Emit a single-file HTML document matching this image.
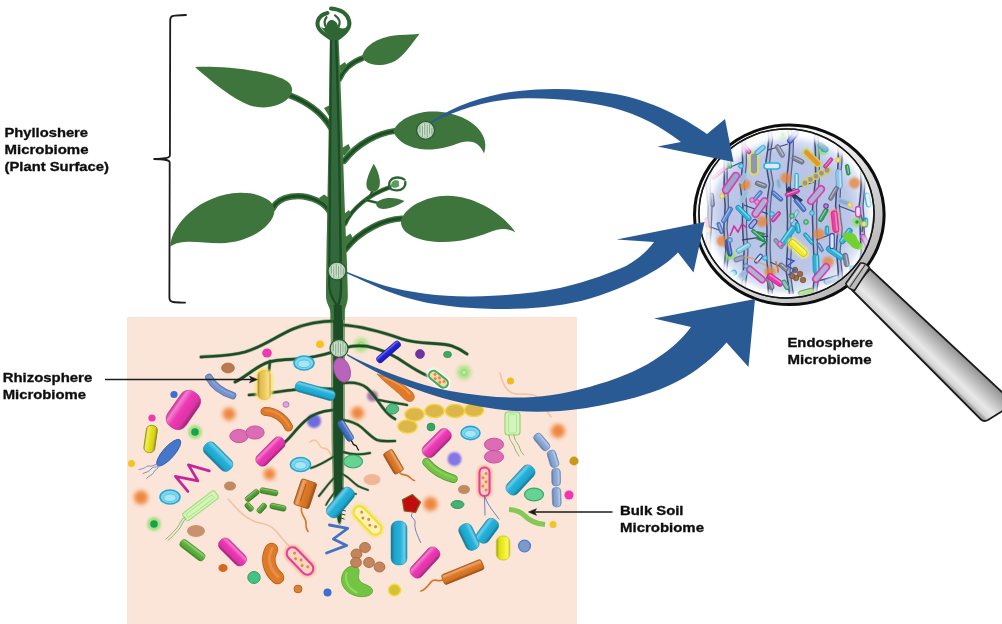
<!DOCTYPE html>
<html><head><meta charset="utf-8"><title>Plant microbiome</title>
<style>
html,body{margin:0;padding:0;background:#fff;}
body{width:1002px;height:624px;overflow:hidden;font-family:"Liberation Sans",sans-serif;}
svg{display:block;}
text{font-family:"Liberation Sans",sans-serif;font-weight:bold;fill:#111;}
</style></head><body>
<svg width="1002" height="624" viewBox="0 0 1002 624">
<defs>
<filter id="soft" x="-2%" y="-2%" width="104%" height="104%"><feGaussianBlur stdDeviation="0.6"/></filter>
<filter id="glow" x="-60%" y="-60%" width="220%" height="220%"><feGaussianBlur stdDeviation="2.2"/></filter>
<filter id="glow1" x="-60%" y="-60%" width="220%" height="220%"><feGaussianBlur stdDeviation="1.3"/></filter>
<linearGradient id="gf2cc5c" x1="0" y1="0" x2="0" y2="1"><stop offset="0" stop-color="#c6a74b"/><stop offset="0.16" stop-color="#f6dd93"/><stop offset="0.42" stop-color="#f2cc5c"/><stop offset="0.78" stop-color="#dfbc55"/><stop offset="1" stop-color="#9b833b"/></linearGradient>
<linearGradient id="ge8e21c" x1="0" y1="0" x2="0" y2="1"><stop offset="0" stop-color="#beb917"/><stop offset="0.16" stop-color="#f0ec69"/><stop offset="0.42" stop-color="#e8e21c"/><stop offset="0.78" stop-color="#d5d01a"/><stop offset="1" stop-color="#949112"/></linearGradient>
<linearGradient id="gf2f022" x1="0" y1="0" x2="0" y2="1"><stop offset="0" stop-color="#c6c51c"/><stop offset="0.16" stop-color="#f6f56d"/><stop offset="0.42" stop-color="#f2f022"/><stop offset="0.78" stop-color="#dfdd1f"/><stop offset="1" stop-color="#9b9a16"/></linearGradient>
<linearGradient id="gee38b4" x1="0" y1="0" x2="0" y2="1"><stop offset="0" stop-color="#c32e94"/><stop offset="0.16" stop-color="#f47cce"/><stop offset="0.42" stop-color="#ee38b4"/><stop offset="0.78" stop-color="#db34a6"/><stop offset="1" stop-color="#982473"/></linearGradient>
<linearGradient id="g22b2dc" x1="0" y1="0" x2="0" y2="1"><stop offset="0" stop-color="#1c92b4"/><stop offset="0.16" stop-color="#6dcce8"/><stop offset="0.42" stop-color="#22b2dc"/><stop offset="0.78" stop-color="#1fa4ca"/><stop offset="1" stop-color="#16728d"/></linearGradient>
<linearGradient id="g2222dc" x1="0" y1="0" x2="0" y2="1"><stop offset="0" stop-color="#1c1cb4"/><stop offset="0.16" stop-color="#6d6de8"/><stop offset="0.42" stop-color="#2222dc"/><stop offset="0.78" stop-color="#1f1fca"/><stop offset="1" stop-color="#16168d"/></linearGradient>
<linearGradient id="g4472c4" x1="0" y1="0" x2="0" y2="1"><stop offset="0" stop-color="#385da1"/><stop offset="0.16" stop-color="#84a2d8"/><stop offset="0.42" stop-color="#4472c4"/><stop offset="0.78" stop-color="#3f69b4"/><stop offset="1" stop-color="#2c497d"/></linearGradient>
<linearGradient id="g8cacdc" x1="0" y1="0" x2="0" y2="1"><stop offset="0" stop-color="#738db4"/><stop offset="0.16" stop-color="#b3c8e8"/><stop offset="0.42" stop-color="#8cacdc"/><stop offset="0.78" stop-color="#819eca"/><stop offset="1" stop-color="#5a6e8d"/></linearGradient>
<linearGradient id="ge07a28" x1="0" y1="0" x2="0" y2="1"><stop offset="0" stop-color="#b86421"/><stop offset="0.16" stop-color="#eba771"/><stop offset="0.42" stop-color="#e07a28"/><stop offset="0.78" stop-color="#ce7025"/><stop offset="1" stop-color="#8f4e1a"/></linearGradient>
<linearGradient id="g5cb43a" x1="0" y1="0" x2="0" y2="1"><stop offset="0" stop-color="#4b9430"/><stop offset="0.16" stop-color="#93ce7d"/><stop offset="0.42" stop-color="#5cb43a"/><stop offset="0.78" stop-color="#55a635"/><stop offset="1" stop-color="#3b7325"/></linearGradient>
<linearGradient id="g52a434" x1="0" y1="0" x2="0" y2="1"><stop offset="0" stop-color="#43862b"/><stop offset="0.16" stop-color="#8dc379"/><stop offset="0.42" stop-color="#52a434"/><stop offset="0.78" stop-color="#4b9730"/><stop offset="1" stop-color="#346921"/></linearGradient>
<linearGradient id="handle" x1="0" y1="0" x2="0" y2="1"><stop offset="0" stop-color="#8f8f8f"/><stop offset="0.35" stop-color="#c9c9c9"/><stop offset="0.7" stop-color="#ececec"/><stop offset="1" stop-color="#bdbdbd"/></linearGradient>
<radialGradient id="lens" cx="0.5" cy="0.5" r="0.5"><stop offset="0" stop-color="#b9c6e6"/><stop offset="0.8" stop-color="#c2cdea"/><stop offset="1" stop-color="#dfe6f5"/></radialGradient>
<clipPath id="lensclip"><circle cx="789" cy="214.5" r="86.5"/></clipPath>
</defs>
<rect width="1002" height="624" fill="#ffffff"/>
<g filter="url(#soft)">
<rect x="127" y="317" width="450" height="307" fill="#fbe5d8"/>
<circle cx="229" cy="414" r="6.5" fill="#ee7f30" opacity="0.92" filter="url(#glow)"/>
<circle cx="357.5" cy="413" r="6.5" fill="#ee7f30" opacity="0.92" filter="url(#glow)"/>
<circle cx="141" cy="497.5" r="7" fill="#ee7f30" opacity="0.92" filter="url(#glow)"/>
<circle cx="269.5" cy="474" r="6" fill="#ee7f30" opacity="0.92" filter="url(#glow)"/>
<circle cx="558" cy="431" r="7" fill="#ee7f30" opacity="0.92" filter="url(#glow)"/>
<circle cx="430.5" cy="504" r="7" fill="#ee7f30" opacity="0.92" filter="url(#glow)"/>
<circle cx="361" cy="345" r="7" fill="#9be07a" opacity="0.85" filter="url(#glow)"/>
<circle cx="361" cy="345" r="2.6" fill="#b9f09a" stroke="#7fd060" stroke-width="0.8"/>
<circle cx="464" cy="372.5" r="7" fill="#9be07a" opacity="0.85" filter="url(#glow)"/>
<circle cx="464" cy="372.5" r="2.6" fill="#b9f09a" stroke="#7fd060" stroke-width="0.8"/>
<circle cx="314" cy="421" r="7" fill="#5656e2" opacity="0.85" filter="url(#glow1)"/>
<circle cx="454.5" cy="459" r="7" fill="#7868ea" opacity="0.9" filter="url(#glow1)"/>
<circle cx="372.5" cy="396" r="5.5" fill="#9a68a2" opacity="0.85" filter="url(#glow1)"/>
<path d="M310,442 C 314,438 318,441 320,446 C 322,450 326,447 328,450 C 330,453 331,455 333,457" fill="none" stroke="#f2c4a6" stroke-width="1.6" stroke-linecap="round" stroke-linejoin="round"/>
<path d="M228,499 C 236,508 244,518 256,522 C 264,524 270,524 276,531 C 282,538 286,544 291,548" fill="none" stroke="#f0c2a4" stroke-width="1.5" stroke-linecap="round" stroke-linejoin="round"/>
<path d="M500,373 C 502,382 505,390 512,393 C 520,396 530,392 536,396 C 542,401 546,410 551,417" fill="none" stroke="#f2c4a6" stroke-width="1.6" stroke-linecap="round" stroke-linejoin="round"/>
<g id="plant">
<path d="M336,321 C 318,321 305,324 293,329 C 275,337 262,347 245,352 C 230,356 215,356 201,357" fill="none" stroke="#2c6a36" stroke-width="3.7800000000000002" stroke-linecap="round" opacity="0.45"/><path d="M336,321 C 318,321 305,324 293,329 C 275,337 262,347 245,352 C 230,356 215,356 201,357" fill="none" stroke="#1c4d26" stroke-width="2.58" stroke-linecap="round"/>
<path d="M333,352 C 320,356 308,358 296,359 C 282,360 270,360 262,365 C 252,370 244,378 235,382" fill="none" stroke="#2c6a36" stroke-width="3.7800000000000002" stroke-linecap="round" opacity="0.45"/><path d="M333,352 C 320,356 308,358 296,359 C 282,360 270,360 262,365 C 252,370 244,378 235,382" fill="none" stroke="#1c4d26" stroke-width="2.58" stroke-linecap="round"/>
<path d="M270,361 L 269,371" fill="none" stroke="#2c6a36" stroke-width="3.436" stroke-linecap="round" opacity="0.45"/><path d="M270,361 L 269,371" fill="none" stroke="#1c4d26" stroke-width="2.236" stroke-linecap="round"/>
<path d="M333,389 C 318,388 305,388 292,390 C 276,392 262,394 249,395" fill="none" stroke="#2c6a36" stroke-width="3.6079999999999997" stroke-linecap="round" opacity="0.45"/><path d="M333,389 C 318,388 305,388 292,390 C 276,392 262,394 249,395" fill="none" stroke="#1c4d26" stroke-width="2.408" stroke-linecap="round"/>
<path d="M333,410 C 322,411 312,414 305,421 C 296,429 291,437 285,442" fill="none" stroke="#2c6a36" stroke-width="3.6079999999999997" stroke-linecap="round" opacity="0.45"/><path d="M333,410 C 322,411 312,414 305,421 C 296,429 291,437 285,442" fill="none" stroke="#1c4d26" stroke-width="2.408" stroke-linecap="round"/>
<path d="M333,457 C 325,462 318,466 311,468" fill="none" stroke="#2c6a36" stroke-width="2.92" stroke-linecap="round" opacity="0.45"/><path d="M333,457 C 325,462 318,466 311,468" fill="none" stroke="#1c4d26" stroke-width="1.72" stroke-linecap="round"/>
<path d="M334,478 C 328,484 324,490 319,496" fill="none" stroke="#2c6a36" stroke-width="2.92" stroke-linecap="round" opacity="0.45"/><path d="M334,478 C 328,484 324,490 319,496" fill="none" stroke="#1c4d26" stroke-width="1.72" stroke-linecap="round"/>
<path d="M335,492 C 331,497 328,501 326,505" fill="none" stroke="#2c6a36" stroke-width="2.576" stroke-linecap="round" opacity="0.45"/><path d="M335,492 C 331,497 328,501 326,505" fill="none" stroke="#1c4d26" stroke-width="1.3760000000000001" stroke-linecap="round"/>
<path d="M342,325 C 360,326 385,333 402,339 C 420,345 440,342 452,346 C 458,348 463,351 467,354" fill="none" stroke="#2c6a36" stroke-width="3.7800000000000002" stroke-linecap="round" opacity="0.45"/><path d="M342,325 C 360,326 385,333 402,339 C 420,345 440,342 452,346 C 458,348 463,351 467,354" fill="none" stroke="#1c4d26" stroke-width="2.58" stroke-linecap="round"/>
<path d="M344,348 C 355,345 365,345 374,348 C 388,352 398,358 405,363 C 414,369 421,373 428,376" fill="none" stroke="#2c6a36" stroke-width="3.7800000000000002" stroke-linecap="round" opacity="0.45"/><path d="M344,348 C 355,345 365,345 374,348 C 388,352 398,358 405,363 C 414,369 421,373 428,376" fill="none" stroke="#1c4d26" stroke-width="2.58" stroke-linecap="round"/>
<path d="M343,383 C 352,382 361,383 367,388 C 374,394 378,402 383,408 C 387,413 391,417 395,419" fill="none" stroke="#2c6a36" stroke-width="3.6079999999999997" stroke-linecap="round" opacity="0.45"/><path d="M343,383 C 352,382 361,383 367,388 C 374,394 378,402 383,408 C 387,413 391,417 395,419" fill="none" stroke="#1c4d26" stroke-width="2.408" stroke-linecap="round"/>
<path d="M379,400 C 388,402 397,403 407,405" fill="none" stroke="#2c6a36" stroke-width="3.2640000000000002" stroke-linecap="round" opacity="0.45"/><path d="M379,400 C 388,402 397,403 407,405" fill="none" stroke="#1c4d26" stroke-width="2.064" stroke-linecap="round"/>
<path d="M343,420 C 350,421 356,423 361,427 C 367,432 371,437 377,440 C 383,442 389,441 395,441" fill="none" stroke="#2c6a36" stroke-width="3.436" stroke-linecap="round" opacity="0.45"/><path d="M343,420 C 350,421 356,423 361,427 C 367,432 371,437 377,440 C 383,442 389,441 395,441" fill="none" stroke="#1c4d26" stroke-width="2.236" stroke-linecap="round"/>
<path d="M343,452 C 352,455 361,455 370,453" fill="none" stroke="#2c6a36" stroke-width="3.092" stroke-linecap="round" opacity="0.45"/><path d="M343,452 C 352,455 361,455 370,453" fill="none" stroke="#1c4d26" stroke-width="1.8920000000000001" stroke-linecap="round"/>
<path d="M342,474 C 348,476 352,482 358,486 C 362,488 365,489 368,490" fill="none" stroke="#2c6a36" stroke-width="2.748" stroke-linecap="round" opacity="0.45"/><path d="M342,474 C 348,476 352,482 358,486 C 362,488 365,489 368,490" fill="none" stroke="#1c4d26" stroke-width="1.548" stroke-linecap="round"/>
<path d="M342,488 C 346,492 350,494 356,494" fill="none" stroke="#2c6a36" stroke-width="2.576" stroke-linecap="round" opacity="0.45"/><path d="M342,488 C 346,492 350,494 356,494" fill="none" stroke="#1c4d26" stroke-width="1.3760000000000001" stroke-linecap="round"/>
<path d="M330.5,309 L345,309 L344.8,440 L343.6,500 L341.5,522 Q 339.5,528 337.5,522 L333,500 L331.5,440 Z" fill="#2c6a36" opacity="0.6"/>
<path d="M333.2,300 L343,300 L343,440 L342.2,500 L340.8,521 Q 339.4,525.5 338,521 L334.4,500 L333.2,440 Z" fill="#1c4d26"/>
<g stroke="#1c4d26" stroke-width="1" fill="none"><path d="M342,506 l4,0.5"/><path d="M341.8,510 l4,1"/><path d="M341.4,514 l4,1"/><path d="M341,518 l3.5,1.2"/><path d="M336,512 l-3,1.2"/></g>
<path d="M290,95.5 C 305,101 322,112 331,128" fill="none" stroke="#3d743c" stroke-width="6.2" stroke-linecap="round"/><path d="M290,95.5 C 305,101 322,112 331,128" fill="none" stroke="#1c4d26" stroke-width="3.0" stroke-linecap="round"/>
<path d="M363,58 C 352,62 344,68 339.5,79" fill="none" stroke="#3d743c" stroke-width="5.6" stroke-linecap="round"/><path d="M363,58 C 352,62 344,68 339.5,79" fill="none" stroke="#1c4d26" stroke-width="2.8" stroke-linecap="round"/>
<path d="M395,131 C 378,133 358,143 344,161" fill="none" stroke="#3d743c" stroke-width="6.2" stroke-linecap="round"/><path d="M395,131 C 378,133 358,143 344,161" fill="none" stroke="#1c4d26" stroke-width="3.0" stroke-linecap="round"/>
<path d="M273,208 C 279,196 300,192 318,201 C 324,204 328,208 331,214" fill="none" stroke="#3d743c" stroke-width="6.2" stroke-linecap="round"/><path d="M273,208 C 279,196 300,192 318,201 C 324,204 328,208 331,214" fill="none" stroke="#1c4d26" stroke-width="3.0" stroke-linecap="round"/>
<path d="M402,218.5 C 385,219 360,230 345,250" fill="none" stroke="#3d743c" stroke-width="6.2" stroke-linecap="round"/><path d="M402,218.5 C 385,219 360,230 345,250" fill="none" stroke="#1c4d26" stroke-width="3.0" stroke-linecap="round"/>
<path d="M345,224 C 352,208 370,194 389.5,187.3" fill="none" stroke="#3d743c" stroke-width="4.4" stroke-linecap="round"/><path d="M345,224 C 352,208 370,194 389.5,187.3" fill="none" stroke="#1c4d26" stroke-width="2.4" stroke-linecap="round"/>
<path d="M369,197 C 371,195 372,193 372.5,190" fill="none" stroke="#3d743c" stroke-width="2.4" stroke-linecap="round"/><path d="M369,197 C 371,195 372,193 372.5,190" fill="none" stroke="#1c4d26" stroke-width="1.2" stroke-linecap="round"/>
<path d="M366,200 C 370,201 374,202 378,203" fill="none" stroke="#3d743c" stroke-width="2.4" stroke-linecap="round"/><path d="M366,200 C 370,201 374,202 378,203" fill="none" stroke="#1c4d26" stroke-width="1.2" stroke-linecap="round"/>
<g fill="#3d743c"><path d="M324,108 l5,-2.5 l2.5,5 l-1,8 z"/><path d="M339,66 l6,-4 l2,4 l-6,8 z"/><path d="M342,148 l6.5,-4 l2,4.5 l-7,8 z"/><path d="M319,198 l5,-3.5 l6,4 l0.5,9 z"/><path d="M344,238 l6.5,-4.5 l2.5,5 l-8,8 z"/><path d="M344,214 l5,-4 l2,4 l-6,7 z"/></g>
<path d="M330,38 C 329.5,80 329,125 327.5,200 C 326.5,250 326,285 326,296 C 326,304 330,306 330.5,313 L 330.5,320 L 344.5,320 L 344.5,313 C 345,306 347.8,304 347.8,296 C 347.8,280 346,240 344.5,200 C 343,150 341,90 338.5,38 Z" fill="#3d743c"/>
<path d="M331,40 C 330.5,100 329.8,200 329.2,285 C 329.2,296 334,300 337,306 C 340,300 341.2,296 341,285 C 340,200 338.6,100 336,40 Z" fill="#33683a"/>
<path d="M331,40 C 330.5,100 329.8,200 329.2,285 C 329.2,296 334,300 337.5,307" fill="none" stroke="#1c4d26" stroke-width="2.2"/>
<path d="M336,40 C 338.6,100 340,200 341,285 C 341.2,296 340,300 337.5,307" fill="none" stroke="#1c4d26" stroke-width="2.4"/>
<path d="M337.7,305 L338,322" stroke="#1c4d26" stroke-width="8" fill="none"/>
<path d="M195,67 C 215,66 262,68.5 285,80 C 293,84.5 294.5,92 288,98.5 C 280,106.5 264,110 250,105.5 C 232,98.5 212,82 195,67 Z" fill="#3d743c"/>
<path d="M362.5,55.5 C 365,45 380,36 400,35 C 408,34.5 414,34.5 419.5,33.8 C 413,42 407,52 398,59 C 388,66.5 372,66.5 366,61.5 C 363,59.5 362,57.5 362.5,55.5 Z" fill="#3d743c"/>
<path d="M393.5,131 C 398,119.5 415,111.5 433,111.5 C 456,111.5 478,122 484,138 C 486,144 485.5,149 484,153.5 C 481,146 476,141.5 468,141.5 C 458,141.5 450,148.5 432,149.5 C 415,150.5 397,143.5 393.5,131 Z" fill="#3d743c"/>
<path d="M170.3,246.5 C 171,225 200,194 240,192.8 C 258,192.3 274.5,200 274.5,210 C 274.5,225 250,243.2 220,243.2 C 200,243.2 182,238.5 170.3,246.5 Z" fill="#3d743c"/>
<path d="M401,221 C 404,208 425,196 447,195.8 C 475,195.6 503,214 515.5,232.5 C 508,228 500,228 490,232 C 475,238 460,242 443,242 C 420,242 400,234 401,221 Z" fill="#3d743c"/>
<path d="M373.6,163.8 C 378,170 381,180 379.6,186 C 378,191 374,192.6 371,191.6 C 366.5,190 365.6,185 367,180 C 368.5,174 371,169 373.6,163.8 Z" fill="#3d743c"/>
<path d="M376,203 C 382,196.8 395,196.8 404.5,201 C 398,206 386,210.5 380,208.5 C 377,207.5 376,205 376,203 Z" fill="#3d743c"/>
<path d="M389.5,187 C 388,181 392,177.3 398,177.5 C 401,177.6 403,178.4 404.5,179.6" fill="none" stroke="#2f6534" stroke-width="2.3" stroke-linecap="round"/>
<path d="M405.3,182 C 406,187 402,190.5 396.5,190.3 C 392.5,190.1 390,189 389.5,187" fill="none" stroke="#2f6534" stroke-width="2.3" stroke-linecap="round"/>
<path d="M391,186 C 391,181 394.5,179.5 398,180.5 C 400,182 398,184 399.5,185.5 C 397,188.5 392.5,188.5 391,186 Z" fill="#5c9c5c"/>
<g fill="none" stroke="#2f6534" stroke-linecap="round"><path d="M331,38.5 C 322,33 315.5,28 318,20.5 C 319.5,16.5 323,14 327.5,13" stroke-width="4"/><path d="M337.5,38.5 C 346,33 351,27 349,20.5 C 347,13.5 340,9.4 331,8.6" stroke-width="4"/><path d="M326,27 C 324,23.5 324.3,20 326.5,17.2" stroke-width="2.2"/><path d="M339,26 C 340.5,22 338.8,18 335,15.4" stroke-width="2.2"/></g>
<path d="M320.5,26 C 323,31 328,34 330.5,40 L 338.5,40 C 341,34 345,31 347.5,26 C 344.5,29.5 340.5,29 338.2,26.5 C 337.3,22.3 334.5,20 331.8,20 C 329,20 326.8,22.3 326.3,26.5 C 325,29 322.5,28.5 320.5,26 Z" fill="#2f6534"/>
<g><circle cx="425.6" cy="130.3" r="9.0" fill="#b3d0b3" stroke="#2b5a32" stroke-width="1.3"/><g stroke="#7c9f83" stroke-width="0.9"><line x1="420.0" y1="125.4" x2="420.0" y2="132.7"/><line x1="422.40000000000003" y1="126.0" x2="422.40000000000003" y2="136.6"/><line x1="424.8" y1="123.4" x2="424.8" y2="134.7"/><line x1="427.20000000000005" y1="125.5" x2="427.20000000000005" y2="137.1"/><line x1="429.6" y1="124.3" x2="429.6" y2="133.8"/><line x1="431.8" y1="127.9" x2="431.8" y2="134.7"/></g><g stroke="#dcebd9" stroke-width="0.8"><line x1="421.20000000000005" y1="124.8" x2="421.20000000000005" y2="135.8"/><line x1="423.6" y1="123.9" x2="423.6" y2="136.7"/><line x1="426.0" y1="123.7" x2="426.0" y2="136.9"/><line x1="428.40000000000003" y1="124.1" x2="428.40000000000003" y2="136.5"/><line x1="430.70000000000005" y1="125.3" x2="430.70000000000005" y2="135.3"/></g></g>
<g><circle cx="337" cy="271" r="9.0" fill="#b3d0b3" stroke="#2b5a32" stroke-width="1.3"/><g stroke="#7c9f83" stroke-width="0.9"><line x1="331.4" y1="266.1" x2="331.4" y2="273.4"/><line x1="333.8" y1="266.7" x2="333.8" y2="277.3"/><line x1="336.2" y1="264.1" x2="336.2" y2="275.4"/><line x1="338.6" y1="266.2" x2="338.6" y2="277.8"/><line x1="341.0" y1="265.0" x2="341.0" y2="274.5"/><line x1="343.2" y1="268.6" x2="343.2" y2="275.4"/></g><g stroke="#dcebd9" stroke-width="0.8"><line x1="332.6" y1="265.5" x2="332.6" y2="276.5"/><line x1="335.0" y1="264.6" x2="335.0" y2="277.4"/><line x1="337.4" y1="264.4" x2="337.4" y2="277.6"/><line x1="339.8" y1="264.8" x2="339.8" y2="277.2"/><line x1="342.1" y1="266.0" x2="342.1" y2="276.0"/></g></g>
<g><circle cx="339" cy="348.5" r="9.0" fill="#b3d0b3" stroke="#2b5a32" stroke-width="1.3"/><g stroke="#7c9f83" stroke-width="0.9"><line x1="333.4" y1="343.6" x2="333.4" y2="350.9"/><line x1="335.8" y1="344.2" x2="335.8" y2="354.8"/><line x1="338.2" y1="341.6" x2="338.2" y2="352.9"/><line x1="340.6" y1="343.7" x2="340.6" y2="355.3"/><line x1="343.0" y1="342.5" x2="343.0" y2="352.0"/><line x1="345.2" y1="346.1" x2="345.2" y2="352.9"/></g><g stroke="#dcebd9" stroke-width="0.8"><line x1="334.6" y1="343.0" x2="334.6" y2="354.0"/><line x1="337.0" y1="342.1" x2="337.0" y2="354.9"/><line x1="339.4" y1="341.9" x2="339.4" y2="355.1"/><line x1="341.8" y1="342.3" x2="341.8" y2="354.7"/><line x1="344.1" y1="343.5" x2="344.1" y2="353.5"/></g></g>
</g>
<ellipse cx="267" cy="353" rx="4.8" ry="4.6" fill="#ea3ab2"/>
<ellipse cx="320" cy="344.3" rx="4" ry="3.8" fill="#f6c21e"/>
<ellipse cx="228" cy="368" rx="6.5" ry="5" fill="#b97a50" stroke="#a0643c" stroke-width="0.6"/>
<ellipse cx="174" cy="394.5" rx="3.6" ry="3.6" fill="#3b6fd2"/>
<ellipse cx="152" cy="418" rx="3.6" ry="3.6" fill="#ea3ab2"/>
<ellipse cx="286" cy="404.5" rx="3" ry="2.8" fill="#dca6dc" stroke="#b070b8" stroke-width="0.9"/>
<ellipse cx="131.5" cy="463.5" rx="3.5" ry="3.5" fill="#f6c21e"/>
<ellipse cx="420" cy="354" rx="4.5" ry="4.5" fill="#7232a2" stroke="#5a2488" stroke-width="0.6"/>
<ellipse cx="447.5" cy="354.5" rx="4" ry="3.2" fill="#3ca862" stroke="#2c8c4e" stroke-width="0.6"/>
<ellipse cx="510.5" cy="381" rx="3.5" ry="3.5" fill="#f2ba1e"/>
<ellipse cx="574" cy="461" rx="4.6" ry="4.4" fill="#c89a12"/>
<ellipse cx="569" cy="495" rx="4.6" ry="4.6" fill="#f236b4"/>
<ellipse cx="553" cy="524.5" rx="3.5" ry="3.5" fill="#f4c428"/>
<ellipse cx="431" cy="427" rx="4" ry="4" fill="#30a862" stroke="#208a4c" stroke-width="0.6"/>
<ellipse cx="327.5" cy="592.5" rx="4" ry="4" fill="#3a70d2"/>
<ellipse cx="298" cy="589" rx="4" ry="3.8" fill="#dc8238" stroke="#c0601c" stroke-width="1"/>
<ellipse cx="223" cy="568" rx="4.6" ry="4" fill="#d2691a"/>
<ellipse cx="394.5" cy="590" rx="6" ry="5.8" fill="#d8c034" stroke="#f0dc40" stroke-width="1.4"/>
<ellipse cx="254" cy="577.5" rx="6.2" ry="6" fill="#42c284" stroke="#2fa06a" stroke-width="1"/>
<ellipse cx="524.5" cy="546" rx="6" ry="5.8" fill="#8098c6" stroke="#3f82da" stroke-width="1.2"/>
<circle cx="195" cy="432" r="7" fill="#9be07a" opacity="0.9" filter="url(#glow1)"/>
<circle cx="195" cy="432" r="3.8" fill="#18a24c"/>
<circle cx="154" cy="524" r="7" fill="#9be07a" opacity="0.9" filter="url(#glow1)"/>
<circle cx="154" cy="524" r="3.8" fill="#18a24c"/>
<ellipse cx="230" cy="486" rx="6" ry="4.6" fill="#c08a62"/>
<ellipse cx="196" cy="531" rx="9" ry="6" fill="#c8926e"/>
<ellipse cx="464" cy="489.5" rx="6" ry="4.6" fill="#c08a62"/>
<ellipse cx="372" cy="479.5" rx="8.5" ry="5.6" fill="#f2b696"/>
<ellipse cx="353" cy="461.5" rx="9.5" ry="6.5" fill="#66d294" stroke="#38a868" stroke-width="1.2"/>
<ellipse cx="392.5" cy="409" rx="6.2" ry="5" fill="#52ba82" stroke="#389a66" stroke-width="1"/>
<ellipse cx="534" cy="494.5" rx="9.5" ry="6.4" fill="#66d294" stroke="#38a868" stroke-width="1.2"/>
<ellipse cx="457.5" cy="504.5" rx="6.5" ry="4" fill="#44b274" stroke="#2c9058" stroke-width="0.9"/>
<ellipse cx="304" cy="363" rx="10" ry="7" fill="#7fd6ee" stroke="#28a8d0" stroke-width="1.6"/><ellipse cx="304" cy="363.8" rx="6.2" ry="3.8500000000000005" fill="#a8e6f6" stroke="#4fbfe0" stroke-width="0.9"/>
<ellipse cx="300.5" cy="464.5" rx="10" ry="7" fill="#7fd6ee" stroke="#28a8d0" stroke-width="1.6"/><ellipse cx="300.5" cy="465.3" rx="6.2" ry="3.8500000000000005" fill="#a8e6f6" stroke="#4fbfe0" stroke-width="0.9"/>
<ellipse cx="170" cy="497" rx="10" ry="7" fill="#7fd6ee" stroke="#28a8d0" stroke-width="1.6"/><ellipse cx="170" cy="497.8" rx="6.2" ry="3.8500000000000005" fill="#a8e6f6" stroke="#4fbfe0" stroke-width="0.9"/>
<ellipse cx="470.5" cy="433" rx="9.5" ry="6.6" fill="#7fd6ee" stroke="#28a8d0" stroke-width="1.6"/><ellipse cx="470.5" cy="433.8" rx="5.89" ry="3.63" fill="#a8e6f6" stroke="#4fbfe0" stroke-width="0.9"/>
<ellipse cx="239" cy="436" rx="9.2" ry="6.6" fill="#dc6cb4" stroke="#c44c9c" stroke-width="0.9"/>
<ellipse cx="255" cy="432.5" rx="9.2" ry="6.6" fill="#dc6cb4" stroke="#c44c9c" stroke-width="0.9"/>
<ellipse cx="494" cy="444.5" rx="9.6" ry="6.3" fill="#dc6cb4" stroke="#c44c9c" stroke-width="0.9"/>
<ellipse cx="494" cy="456.8" rx="9.6" ry="6.3" fill="#dc6cb4" stroke="#c44c9c" stroke-width="0.9"/>
<ellipse cx="407.5" cy="426.5" rx="9.6" ry="6.6" fill="#dcb64c" stroke="#f2d43c" stroke-width="1.4"/>
<ellipse cx="414.5" cy="414.5" rx="9.6" ry="6.6" fill="#dcb64c" stroke="#f2d43c" stroke-width="1.4"/>
<ellipse cx="434.5" cy="411" rx="9.6" ry="6.6" fill="#dcb64c" stroke="#f2d43c" stroke-width="1.4"/>
<ellipse cx="455" cy="411" rx="9.6" ry="6.6" fill="#dcb64c" stroke="#f2d43c" stroke-width="1.4"/>
<ellipse cx="474" cy="410" rx="9.6" ry="6.6" fill="#dcb64c" stroke="#f2d43c" stroke-width="1.4"/>
<ellipse cx="342" cy="370" rx="8" ry="12.5" fill="#ba64ba" stroke="#9a4a9c" stroke-width="0.8" transform="rotate(-18 342 370)"/>
<rect x="255" y="368" width="18" height="33" rx="9" fill="#f5e86a" opacity="0.9" filter="url(#glow1)"/>
<rect x="-14.5" y="-6.5" width="29.0" height="13.0" rx="5.59" fill="url(#gf2cc5c)" stroke="#e8c040" stroke-width="0.8" transform="translate(264.0,385.0) rotate(90.0)"/>
<rect x="-13.6" y="-5.5" width="27.3" height="11.0" rx="4.7299999999999995" fill="url(#ge8e21c)" stroke="#8c8c14" stroke-width="0.8" transform="translate(150.6,439.0) rotate(-81.8)"/>
<rect x="-12.0" y="-6.8" width="24.0" height="13.5" rx="5.805" fill="url(#gf2f022)" stroke="#c8c81a" stroke-width="0.8" transform="translate(503.0,548.0) rotate(90.0)"/>
<rect x="-21.0" y="-11.0" width="42.0" height="22.0" rx="9.459999999999999" fill="url(#gee38b4)" stroke="#b22a87" stroke-width="0.5" transform="translate(183.4,410.0) rotate(-55.0)"/>
<rect x="-17.7" y="-6.5" width="35.4" height="13.0" rx="5.59" fill="url(#gee38b4)" stroke="#b22a87" stroke-width="0.5" transform="translate(270.5,451.5) rotate(-45.0)"/>
<rect x="-16.7" y="-6.5" width="33.4" height="13.0" rx="5.59" fill="url(#gee38b4)" stroke="#b22a87" stroke-width="0.5" transform="translate(232.5,552.0) rotate(45.0)"/>
<rect x="-17.3" y="-7.0" width="34.5" height="14.0" rx="6.02" fill="url(#gee38b4)" stroke="#b22a87" stroke-width="0.5" transform="translate(436.8,443.0) rotate(-45.0)"/>
<rect x="-18.3" y="-7.0" width="36.5" height="14.0" rx="6.02" fill="url(#gee38b4)" stroke="#b22a87" stroke-width="0.5" transform="translate(425.0,562.5) rotate(-47.2)"/>
<rect x="-20.5" y="-5.2" width="41.0" height="10.5" rx="4.515" fill="url(#g22b2dc)" stroke="#1a86a5" stroke-width="0.5" transform="translate(315.2,391.0) rotate(15.6)"/>
<rect x="-17.5" y="-7.0" width="35.0" height="14.0" rx="6.02" fill="url(#g22b2dc)" stroke="#1a86a5" stroke-width="0.5" transform="translate(218.1,456.7) rotate(45.1)"/>
<rect x="-17.5" y="-7.0" width="34.9" height="14.0" rx="6.02" fill="url(#g22b2dc)" stroke="#1a86a5" stroke-width="0.5" transform="translate(340.5,502.5) rotate(-50.1)"/>
<rect x="-17.6" y="-7.0" width="35.2" height="14.0" rx="6.02" fill="url(#g22b2dc)" stroke="#1a86a5" stroke-width="0.5" transform="translate(520.5,480.0) rotate(-47.1)"/>
<rect x="-22.0" y="-8.0" width="44.0" height="16.0" rx="6.88" fill="url(#g22b2dc)" stroke="#1a86a5" stroke-width="0.5" transform="translate(399.0,543.0) rotate(90.0)"/>
<rect x="-13.9" y="-7.0" width="27.7" height="14.0" rx="6.02" fill="url(#g22b2dc)" stroke="#1a86a5" stroke-width="0.5" transform="translate(469.0,537.0) rotate(64.4)"/>
<rect x="-13.4" y="-7.0" width="26.8" height="14.0" rx="6.02" fill="url(#g22b2dc)" stroke="#1a86a5" stroke-width="0.5" transform="translate(487.5,530.8) rotate(-53.3)"/>
<rect x="-14.5" y="-3.5" width="29.1" height="7.0" rx="3.01" fill="url(#g2222dc)" stroke="#1a1aa5" stroke-width="0.5" transform="translate(388.5,352.0) rotate(-40.8)"/>
<rect x="-11.4" y="-3.8" width="22.9" height="7.5" rx="3.225" fill="url(#g4472c4)" stroke="#335693" stroke-width="0.5" transform="translate(345.5,430.8) rotate(58.4)"/>
<path d="M351.5,441 c 2,2 1,4 3,4 c 3,0 2,3 4,5" fill="none" stroke="#1a1a1a" stroke-width="1.3" stroke-linecap="round" stroke-linejoin="round"/>
<ellipse cx="168.7" cy="452.7" rx="17" ry="5.8" fill="#4476ca" stroke="#2c58a4" stroke-width="0.8" transform="rotate(-48.5 168.7 452.7)"/>
<path d="M158,465 c -3,-2 -5,2 -8,1 c -3,-1 -5,3 -11,3.5" fill="none" stroke="#6a84c4" stroke-width="0.9" stroke-linecap="round" stroke-linejoin="round"/>
<path d="M158,466 c -2,2 -5,0 -7,3 c -2,3 -5,3 -8,4.5" fill="none" stroke="#6a84c4" stroke-width="0.9" stroke-linecap="round" stroke-linejoin="round"/>
<path d="M158.5,466.5 c 0,3 -4,3 -5,6 c -1,3 -5,3 -7,6" fill="none" stroke="#6a84c4" stroke-width="0.9" stroke-linecap="round" stroke-linejoin="round"/>
<path d="M209,377.5 C 213,385 222,392 232.5,395.5" fill="none" stroke="#5a729f" stroke-width="7.6" stroke-linecap="round" stroke-linejoin="round"/><path d="M209,377.5 C 213,385 222,392 232.5,395.5" fill="none" stroke="#7492cc" stroke-width="6.0" stroke-linecap="round"/><path d="M209,377.5 C 213,385 222,392 232.5,395.5" fill="none" stroke="#a5b8de" stroke-width="1.7" stroke-linecap="round" opacity="0.45" transform="translate(0.6,-0.9)"/>
<rect x="-9.8" y="-4.3" width="19.5" height="8.6" rx="3.698" fill="url(#g8cacdc)" stroke="#6a8cbc" stroke-width="0.8" transform="translate(541.8,442.0) rotate(50.2)"/>
<rect x="-8.6" y="-4.3" width="17.2" height="8.6" rx="3.698" fill="url(#g8cacdc)" stroke="#6a8cbc" stroke-width="0.8" transform="translate(553.0,458.8) rotate(73.1)"/>
<rect x="-8.8" y="-4.3" width="17.5" height="8.6" rx="3.698" fill="url(#g8cacdc)" stroke="#6a8cbc" stroke-width="0.8" transform="translate(556.1,477.2) rotate(89.0)"/>
<rect x="-9.8" y="-4.3" width="19.5" height="8.6" rx="3.698" fill="url(#g8cacdc)" stroke="#6a8cbc" stroke-width="0.8" transform="translate(556.6,497.2) rotate(87.9)"/>
<path d="M265,411.5 C 274,411 284,417.5 288.5,427" fill="none" stroke="#af5f1f" stroke-width="9" stroke-linecap="round" stroke-linejoin="round"/><path d="M265,411.5 C 274,411 284,417.5 288.5,427" fill="none" stroke="#e07a28" stroke-width="7.4" stroke-linecap="round"/><path d="M265,411.5 C 274,411 284,417.5 288.5,427" fill="none" stroke="#eba973" stroke-width="2.0" stroke-linecap="round" opacity="0.45" transform="translate(0.6,-0.9)"/>
<path d="M377,374 C 390,377 404,384 412,392 C 416,396 414.5,401.5 410,401.5 C 405,401.5 402,396 397,392 C 390,386 382,380 377,374 Z" fill="#e07a28" stroke="#b85c14" stroke-width="0.6"/>
<path d="M384,377.5 C 394,381 404,387 410,394" fill="none" stroke="#f2a05a" stroke-width="1.6" stroke-linecap="round" opacity="0.8"/>
<path d="M271.5,549.5 C 266.5,558 268.5,570 277.5,577.5" fill="none" stroke="#af5f1f" stroke-width="13.5" stroke-linecap="round" stroke-linejoin="round"/><path d="M271.5,549.5 C 266.5,558 268.5,570 277.5,577.5" fill="none" stroke="#e07a28" stroke-width="11.9" stroke-linecap="round"/><path d="M271.5,549.5 C 266.5,558 268.5,570 277.5,577.5" fill="none" stroke="#eba973" stroke-width="3.0" stroke-linecap="round" opacity="0.45" transform="translate(0.6,-0.9)"/>
<rect x="-13.4" y="-8.0" width="26.9" height="16.0" rx="2" fill="url(#ge07a28)" stroke="#a85410" stroke-width="0.8" transform="translate(305.2,493.8) rotate(-71.6)"/>
<path d="M306,484 L 300.5,501" fill="none" stroke="#b05a14" stroke-width="1.0" stroke-linecap="round" stroke-linejoin="round"/>
<path d="M301.5,508 C 300,515 307,518 306,524 C 305.5,528 307,530 308,531.5" fill="none" stroke="#d8742a" stroke-width="1.6" stroke-linecap="round" stroke-linejoin="round"/>
<rect x="-11.9" y="-5.2" width="23.8" height="10.5" rx="2" fill="url(#ge07a28)" stroke="#a85410" stroke-width="0.8" transform="translate(393.5,461.8) rotate(59.7)"/>
<path d="M399,472 C 402,476 405,474 408,476 C 411,478 412,480 414.5,480.5" fill="none" stroke="#d8742a" stroke-width="1.6" stroke-linecap="round" stroke-linejoin="round"/>
<rect x="-21.3" y="-5.2" width="42.6" height="10.5" rx="2" fill="url(#ge07a28)" stroke="#a85410" stroke-width="0.8" transform="translate(462.8,572.0) rotate(-22.1)"/>
<path d="M443,580 C 438,582 434,578 431,582 C 428,586 425,590 421,591" fill="none" stroke="#d8742a" stroke-width="1.8" stroke-linecap="round" stroke-linejoin="round"/>
<rect x="-14.5" y="-4.2" width="28.9" height="8.5" rx="3.655" fill="url(#g5cb43a)" stroke="#45872c" stroke-width="0.5" transform="translate(192.5,550.2) rotate(37.3)"/>
<path d="M426.5,462 C 432,469 442,475.5 453.5,478.8" fill="none" stroke="#599933" stroke-width="8.5" stroke-linecap="round" stroke-linejoin="round"/><path d="M426.5,462 C 432,469 442,475.5 453.5,478.8" fill="none" stroke="#72c442" stroke-width="6.9" stroke-linecap="round"/><path d="M426.5,462 C 432,469 442,475.5 453.5,478.8" fill="none" stroke="#a3d984" stroke-width="1.9" stroke-linecap="round" opacity="0.45" transform="translate(0.6,-0.9)"/>
<path d="M509,509.6 C 516,510 521,512 525,516 C 529,520.5 536,523.5 545,524.6" fill="none" stroke="#82ca52" stroke-width="5" stroke-linecap="butt" stroke-linejoin="round"/>
<rect x="-8.0" y="-2.8" width="16.0" height="5.6" rx="2.408" fill="url(#g52a434)" stroke="#3e7b27" stroke-width="0.5" transform="translate(252.2,495.5) rotate(-38.7)"/>
<rect x="-9.2" y="-2.8" width="18.3" height="5.6" rx="2.408" fill="url(#g52a434)" stroke="#3e7b27" stroke-width="0.5" transform="translate(269.0,491.8) rotate(11.0)"/>
<rect x="-4.8" y="-2.8" width="9.6" height="5.6" rx="2.408" fill="url(#g52a434)" stroke="#3e7b27" stroke-width="0.5" transform="translate(249.2,507.0) rotate(47.1)"/>
<rect x="-5.7" y="-2.8" width="11.3" height="5.6" rx="2.408" fill="url(#g52a434)" stroke="#3e7b27" stroke-width="0.5" transform="translate(261.8,508.2) rotate(-48.6)"/>
<rect x="-8.2" y="-2.8" width="16.4" height="5.6" rx="2.408" fill="url(#g52a434)" stroke="#3e7b27" stroke-width="0.5" transform="translate(278.0,507.2) rotate(12.3)"/>
<path d="M346,569 C 351,564.5 358,565.5 359,570 C 359.5,574 357,577 360,581 C 363,585 371,585 372.5,590 C 373.5,594.5 367,597.5 359,596.5 C 348,595 341,587 341.5,579 C 341.8,575 343,572 346,569 Z" fill="#72c442" stroke="#58a430" stroke-width="0.8"/>
<path d="M346.5,573 C 344.5,580 348,589 357,592.5" fill="none" stroke="#9ade6a" stroke-width="2" stroke-linecap="round" opacity="0.8"/>
<ellipse cx="365" cy="547.5" rx="5.4" ry="5" fill="#c4845c" stroke="#a8683e" stroke-width="0.9"/>
<ellipse cx="356.5" cy="554" rx="5.4" ry="5" fill="#c4845c" stroke="#a8683e" stroke-width="0.9"/>
<ellipse cx="356" cy="562.5" rx="5.4" ry="5" fill="#c4845c" stroke="#a8683e" stroke-width="0.9"/>
<ellipse cx="369" cy="562.5" rx="5.4" ry="5" fill="#c4845c" stroke="#a8683e" stroke-width="0.9"/>
<ellipse cx="379.5" cy="567" rx="5.4" ry="5" fill="#c4845c" stroke="#a8683e" stroke-width="0.9"/>
<g transform="translate(200.5,505.8) rotate(-37)"><rect x="-20" y="-4.6" width="40" height="9.2" rx="2.5" fill="#d6f6b8" stroke="#a4dc84" stroke-width="1.2"/><rect x="-17" y="-2" width="33" height="4" rx="1.5" fill="none" stroke="#a4dc84" stroke-width="0.8"/></g>
<path d="M185,517 C 180,520 180,525 176,529 C 173,532 170,536 166,539" fill="none" stroke="#7ab45a" stroke-width="0.9" stroke-linecap="round" stroke-linejoin="round"/>
<path d="M186,518.5 C 182,521.5 182,526.5 178,530.5 C 175,533.5 172,537.5 168,540.5" fill="none" stroke="#7ab45a" stroke-width="0.9" stroke-linecap="round" stroke-linejoin="round"/>
<rect x="505" y="412" width="15" height="23" rx="3" fill="#d2f4ba" stroke="#96d47a" stroke-width="1.2"/><rect x="508.5" y="414" width="8" height="19" rx="2" fill="none" stroke="#a8e08c" stroke-width="0.8"/>
<path d="M509,435 C 509,441 514,444 515,449 C 516,452 518,454 519,456" fill="none" stroke="#7ab45a" stroke-width="0.9" stroke-linecap="round" stroke-linejoin="round"/>
<path d="M514,435 C 514,441 519,444 520,449 C 521,452 523,454 524,455" fill="none" stroke="#7ab45a" stroke-width="0.9" stroke-linecap="round" stroke-linejoin="round"/>
<rect x="-19.1" y="-8.5" width="38.2" height="17.0" rx="8.5" fill="#f4b088" opacity="0.9" filter="url(#glow1)" transform="translate(300.0,561.0) rotate(46.2)"/><g transform="translate(300.0,561.0) rotate(46.2)"><rect x="-16.6" y="-6.0" width="33.2" height="12.0" rx="6.0" fill="#f9d6c0" stroke="#e63aa4" stroke-width="2"/><circle cx="-9.5" cy="-1.6" r="1.5" fill="#e8883a"/><circle cx="-4.7" cy="1.6" r="1.5" fill="#e8883a"/><circle cx="0.0" cy="-1.6" r="1.5" fill="#e8883a"/><circle cx="4.7" cy="1.6" r="1.5" fill="#e8883a"/><circle cx="9.5" cy="-1.6" r="1.5" fill="#e8883a"/></g>
<rect x="-19.8" y="-8.5" width="39.7" height="17.0" rx="8.5" fill="#f6e27a" opacity="0.9" filter="url(#glow1)" transform="translate(367.5,520.5) rotate(46.2)"/><g transform="translate(367.5,520.5) rotate(46.2)"><rect x="-17.3" y="-6.0" width="34.7" height="12.0" rx="6.0" fill="#fbf2b8" stroke="#efe224" stroke-width="2"/><circle cx="-10.0" cy="-1.6" r="1.5" fill="#e8883a"/><circle cx="-5.0" cy="1.6" r="1.5" fill="#e8883a"/><circle cx="0.0" cy="-1.6" r="1.5" fill="#e8883a"/><circle cx="5.0" cy="1.6" r="1.5" fill="#e8883a"/><circle cx="10.0" cy="-1.6" r="1.5" fill="#e8883a"/></g>
<rect x="-16.8" y="-7.5" width="33.5" height="15.0" rx="7.5" fill="#f4b088" opacity="0.9" filter="url(#glow1)" transform="translate(484.5,481.8) rotate(90.0)"/><g transform="translate(484.5,481.8) rotate(90.0)"><rect x="-14.2" y="-5.0" width="28.5" height="10.0" rx="5.0" fill="#f8d2b4" stroke="#e63aa4" stroke-width="2"/><circle cx="-8.2" cy="-1.6" r="1.5" fill="#e8883a"/><circle cx="-4.1" cy="1.6" r="1.5" fill="#e8883a"/><circle cx="0.0" cy="-1.6" r="1.5" fill="#e8883a"/><circle cx="4.1" cy="1.6" r="1.5" fill="#e8883a"/><circle cx="8.2" cy="-1.6" r="1.5" fill="#e8883a"/></g>
<rect x="-13.4" y="-7.0" width="26.7" height="14.0" rx="7.0" fill="#ffffff" opacity="0.9" filter="url(#glow1)" transform="translate(438.5,379.2) rotate(38.5)"/><g transform="translate(438.5,379.2) rotate(38.5)"><rect x="-10.9" y="-4.5" width="21.7" height="9.0" rx="4.5" fill="#f6d8b4" stroke="#3cac5a" stroke-width="2"/><circle cx="-5.8" cy="-1.6" r="1.5" fill="#e8883a"/><circle cx="-2.9" cy="1.6" r="1.5" fill="#e8883a"/><circle cx="0.0" cy="-1.6" r="1.5" fill="#e8883a"/><circle cx="2.9" cy="1.6" r="1.5" fill="#e8883a"/><circle cx="5.8" cy="-1.6" r="1.5" fill="#e8883a"/></g>
<path d="M484.5,497 L 485,515" fill="none" stroke="#5a74c0" stroke-width="0.9" stroke-linecap="round" stroke-linejoin="round"/>
<path d="M485,497 C 488,506 494,512 499,519" fill="none" stroke="#5a74c0" stroke-width="0.9" stroke-linecap="round" stroke-linejoin="round"/>
<polygon points="412.3,494.5 420.5,502.3 415.5,512.5 404.3,510.9 402.4,499.8" fill="#c00808" stroke="#8a5a1e" stroke-width="1.2" stroke-linejoin="round"/>
<path d="M412,513.5 C 409,518 416,518 415,523 C 414,529 418,536 420.5,542.5" fill="none" stroke="#5a74c0" stroke-width="0.9" stroke-linecap="round" stroke-linejoin="round"/>
<polyline points="187.9,491.4 175.4,476.4 197.9,480.9 188.4,464.9 209.3,470.9" fill="none" stroke="#c4289c" stroke-width="2.8" stroke-linejoin="round" stroke-linecap="round"/>
<polyline points="329.4,525 347.7,528.3 333.3,539 346.7,545.4 326.5,553" fill="none" stroke="#4472c4" stroke-width="2.8" stroke-linejoin="round" stroke-linecap="round"/>
<defs><linearGradient id="hg" gradientUnits="userSpaceOnUse" x1="941" y1="333" x2="919" y2="356"><stop offset="0" stop-color="#8e8e8e"/><stop offset="0.3" stop-color="#b4b4b4"/><stop offset="0.72" stop-color="#e9e9e9"/><stop offset="0.93" stop-color="#d4d4d4"/><stop offset="1" stop-color="#a8a8a8"/></linearGradient></defs>
<path d="M870,269 L1012,401.5 L1012,405 L 988,420 Q 984,422.2 981,419.5 L 852,290 Z" fill="url(#hg)" stroke="#1c1c1c" stroke-width="1.8" stroke-linejoin="round"/>
<defs><linearGradient id="rg" x1="0" y1="0" x2="1" y2="1"><stop offset="0" stop-color="#ffffff"/><stop offset="0.45" stop-color="#ececec"/><stop offset="0.8" stop-color="#bebebe"/><stop offset="1" stop-color="#a6a6a6"/></linearGradient><clipPath id="lc"><ellipse cx="786.5" cy="213.5" rx="87" ry="84"/></clipPath><radialGradient id="lensg" cx="0.5" cy="0.5" r="0.5"><stop offset="0" stop-color="#b3bfe2"/><stop offset="0.72" stop-color="#bcc7e8"/><stop offset="0.9" stop-color="#dde4f5"/><stop offset="1" stop-color="#f4f6fc"/></radialGradient></defs>
<ellipse cx="789.3" cy="214.8" rx="94.8" ry="89.8" fill="url(#rg)" stroke="#0c0c0c" stroke-width="3"/>
<ellipse cx="786.5" cy="213.5" rx="87.5" ry="84.5" fill="url(#lensg)" stroke="#151515" stroke-width="1.5"/>
<g clip-path="url(#lc)">
<path d="M709.1,118 Q708.6,129.0 708.4,140 Q708.9,151.0 710.6,162 Q709.4,173.0 708.0,184 Q708.2,195.0 710.1,206 Q709.8,217.0 709.3,228 Q709.5,239.0 708.0,250 Q709.2,261.0 709.9,272 Q709.1,283.0 707.9,294" fill="none" stroke="#aab6d6" stroke-width="5.3" opacity="0.9"/>
<path d="M707.2,118 Q706.0,129.0 706.5,140 Q707.7,151.0 708.7,162 Q706.5,173.0 706.1,184 Q706.6,195.0 708.2,206 Q707.9,217.0 707.4,228 Q706.0,239.0 706.1,250 Q706.9,261.0 708.0,272 Q707.1,283.0 706.0,294" fill="none" stroke="#3a4672" stroke-width="1.5" opacity="0.95"/>
<path d="M711.0,118 Q710.8,129.0 710.3,140 Q711.5,151.0 712.5,162 Q711.6,173.0 709.9,184 Q710.1,195.0 712.0,206 Q711.7,217.0 711.2,228 Q709.9,239.0 709.9,250 Q710.0,261.0 711.8,272 Q711.2,283.0 709.8,294" fill="none" stroke="#4a5884" stroke-width="1.2" opacity="0.9"/>
<path d="M725.9,118 Q726.4,129.0 726.1,140 Q725.3,151.0 725.6,162 Q725.8,173.0 725.7,184 Q726.3,195.0 726.8,206 Q726.9,217.0 725.4,228 Q726.9,239.0 727.5,250 Q725.8,261.0 725.0,272 Q725.7,283.0 724.5,294" fill="none" stroke="#aab6d6" stroke-width="4.7" opacity="0.9"/>
<path d="M724.3,118 Q723.6,129.0 724.5,140 Q724.1,151.0 724.0,162 Q724.6,173.0 724.1,184 Q724.0,195.0 725.2,206 Q724.5,217.0 723.8,228 Q723.9,239.0 725.9,250 Q725.0,261.0 723.4,272 Q723.7,283.0 722.9,294" fill="none" stroke="#3a4672" stroke-width="1.5" opacity="0.95"/>
<path d="M727.5,118 Q727.7,129.0 727.7,140 Q728.2,151.0 727.2,162 Q726.9,173.0 727.3,184 Q728.3,195.0 728.4,206 Q727.9,217.0 727.0,228 Q728.2,239.0 729.1,250 Q727.7,261.0 726.6,272 Q727.0,283.0 726.1,294" fill="none" stroke="#4a5884" stroke-width="1.2" opacity="0.9"/>
<path d="M745.9,118 Q745.6,129.0 743.8,140 Q743.9,151.0 744.6,162 Q744.2,173.0 742.0,184 Q743.1,195.0 744.8,206 Q744.9,217.0 744.5,228 Q745.3,239.0 746.1,250 Q745.1,261.0 745.3,272 Q743.7,283.0 743.0,294" fill="none" stroke="#aab6d6" stroke-width="5.3" opacity="0.9"/>
<path d="M744.0,118 Q743.4,129.0 741.9,140 Q742.1,151.0 742.7,162 Q742.2,173.0 740.1,184 Q741.5,195.0 742.9,206 Q742.1,217.0 742.6,228 Q743.2,239.0 744.2,250 Q743.3,261.0 743.4,272 Q741.5,283.0 741.1,294" fill="none" stroke="#3a4672" stroke-width="1.5" opacity="0.95"/>
<path d="M747.8,118 Q746.6,129.0 745.7,140 Q746.2,151.0 746.5,162 Q745.6,173.0 743.9,184 Q746.2,195.0 746.7,206 Q746.9,217.0 746.4,228 Q747.0,239.0 748.0,250 Q747.1,261.0 747.2,272 Q745.2,283.0 744.9,294" fill="none" stroke="#4a5884" stroke-width="1.2" opacity="0.9"/>
<path d="M768.4,118 Q770.4,129.0 770.6,140 Q769.6,151.0 767.8,162 Q769.6,173.0 771.4,184 Q770.2,195.0 768.5,206 Q769.1,217.0 768.9,228 Q767.7,239.0 768.3,250 Q770.0,261.0 770.1,272 Q770.8,283.0 770.4,294" fill="none" stroke="#aab6d6" stroke-width="5.3" opacity="0.9"/>
<path d="M766.5,118 Q768.3,129.0 768.7,140 Q767.9,151.0 765.9,162 Q767.4,173.0 769.5,184 Q767.8,195.0 766.6,206 Q766.0,217.0 767.0,228 Q767.0,239.0 766.4,250 Q766.4,261.0 768.2,272 Q767.5,283.0 768.5,294" fill="none" stroke="#3a4672" stroke-width="1.5" opacity="0.95"/>
<path d="M770.3,118 Q770.8,129.0 772.5,140 Q770.4,151.0 769.7,162 Q771.1,173.0 773.3,184 Q770.9,195.0 770.4,206 Q769.6,217.0 770.8,228 Q769.8,239.0 770.2,250 Q770.3,261.0 772.0,272 Q771.8,283.0 772.3,294" fill="none" stroke="#4a5884" stroke-width="1.2" opacity="0.9"/>
<path d="M787.8,118 Q789.6,129.0 791.5,140 Q790.6,151.0 790.4,162 Q788.7,173.0 788.4,184 Q789.1,195.0 788.8,206 Q789.5,217.0 789.2,228 Q789.2,239.0 789.3,250 Q789.2,261.0 788.2,272 Q789.9,283.0 791.4,294" fill="none" stroke="#aab6d6" stroke-width="5.3" opacity="0.9"/>
<path d="M785.9,118 Q787.2,129.0 789.6,140 Q790.0,151.0 788.5,162 Q787.2,173.0 786.5,184 Q787.1,195.0 786.9,206 Q787.9,217.0 787.3,228 Q787.9,239.0 787.4,250 Q786.5,261.0 786.3,272 Q788.2,283.0 789.5,294" fill="none" stroke="#3a4672" stroke-width="1.5" opacity="0.95"/>
<path d="M789.7,118 Q790.8,129.0 793.4,140 Q793.6,151.0 792.3,162 Q791.3,173.0 790.3,184 Q791.3,195.0 790.7,206 Q790.6,217.0 791.1,228 Q790.6,239.0 791.2,250 Q790.8,261.0 790.1,272 Q791.7,283.0 793.3,294" fill="none" stroke="#4a5884" stroke-width="1.2" opacity="0.9"/>
<path d="M816.5,118 Q816.2,129.0 816.4,140 Q815.8,151.0 817.2,162 Q816.2,173.0 817.0,184 Q815.4,195.0 814.6,206 Q814.2,217.0 814.8,228 Q815.5,239.0 815.5,250 Q817.3,261.0 817.2,272 Q815.8,283.0 814.6,294" fill="none" stroke="#aab6d6" stroke-width="5.3" opacity="0.9"/>
<path d="M814.6,118 Q815.4,129.0 814.5,140 Q815.9,151.0 815.3,162 Q816.1,173.0 815.1,184 Q813.6,195.0 812.7,206 Q812.2,217.0 812.9,228 Q812.7,239.0 813.6,250 Q813.8,261.0 815.3,272 Q813.4,283.0 812.7,294" fill="none" stroke="#3a4672" stroke-width="1.5" opacity="0.95"/>
<path d="M818.4,118 Q818.6,129.0 818.3,140 Q819.5,151.0 819.1,162 Q819.7,173.0 818.9,184 Q817.7,195.0 816.5,206 Q816.9,217.0 816.7,228 Q817.6,239.0 817.4,250 Q817.4,261.0 819.1,272 Q818.1,283.0 816.5,294" fill="none" stroke="#4a5884" stroke-width="1.2" opacity="0.9"/>
<path d="M840.7,118 Q840.3,129.0 840.1,140 Q840.6,151.0 840.0,162 Q838.6,173.0 838.8,184 Q837.5,195.0 837.5,206 Q839.8,217.0 840.2,228 Q838.2,239.0 838.2,250 Q839.4,261.0 840.2,272 Q840.5,283.0 841.0,294" fill="none" stroke="#aab6d6" stroke-width="5.3" opacity="0.9"/>
<path d="M838.8,118 Q838.8,129.0 838.2,140 Q838.4,151.0 838.1,162 Q837.7,173.0 836.9,184 Q836.2,195.0 835.6,206 Q837.8,217.0 838.3,228 Q836.6,239.0 836.3,250 Q837.4,261.0 838.3,272 Q837.7,283.0 839.1,294" fill="none" stroke="#3a4672" stroke-width="1.5" opacity="0.95"/>
<path d="M842.6,118 Q842.9,129.0 842.0,140 Q842.4,151.0 841.9,162 Q840.5,173.0 840.7,184 Q840.5,195.0 839.4,206 Q840.0,217.0 842.1,228 Q842.0,239.0 840.1,250 Q840.5,261.0 842.1,272 Q843.2,283.0 842.9,294" fill="none" stroke="#4a5884" stroke-width="1.2" opacity="0.9"/>
<path d="M859.8,118 Q860.6,129.0 860.6,140 Q861.9,151.0 861.9,162 Q862.5,173.0 863.1,184 Q862.8,195.0 861.1,206 Q862.4,217.0 862.1,228 Q862.0,239.0 863.4,250 Q861.0,261.0 860.0,272 Q861.5,283.0 863.0,294" fill="none" stroke="#aab6d6" stroke-width="5.3" opacity="0.9"/>
<path d="M857.9,118 Q859.1,129.0 858.7,140 Q859.9,151.0 860.0,162 Q860.8,173.0 861.2,184 Q860.7,195.0 859.2,206 Q859.0,217.0 860.2,228 Q860.1,239.0 861.5,250 Q860.0,261.0 858.1,272 Q858.8,283.0 861.1,294" fill="none" stroke="#3a4672" stroke-width="1.5" opacity="0.95"/>
<path d="M861.7,118 Q861.3,129.0 862.5,140 Q863.5,151.0 863.8,162 Q864.4,173.0 865.0,184 Q864.0,195.0 863.0,206 Q864.1,217.0 864.0,228 Q865.4,239.0 865.3,250 Q862.7,261.0 861.9,272 Q862.7,283.0 864.9,294" fill="none" stroke="#4a5884" stroke-width="1.2" opacity="0.9"/>
<path d="M873.6,118 Q874.1,129.0 873.8,140 Q874.5,151.0 875.4,162 Q874.5,173.0 873.5,184 Q875.4,195.0 877.3,206 Q876.4,217.0 873.7,228 Q874.7,239.0 874.8,250 Q877.0,261.0 877.7,272 Q877.8,283.0 876.1,294" fill="none" stroke="#aab6d6" stroke-width="4.7" opacity="0.9"/>
<path d="M872.0,118 Q871.6,129.0 872.2,140 Q873.1,151.0 873.8,162 Q873.7,173.0 871.9,184 Q874.5,195.0 875.7,206 Q873.2,217.0 872.1,228 Q871.9,239.0 873.2,250 Q874.5,261.0 876.1,272 Q874.4,283.0 874.5,294" fill="none" stroke="#3a4672" stroke-width="1.5" opacity="0.95"/>
<path d="M875.2,118 Q874.8,129.0 875.4,140 Q875.4,151.0 877.0,162 Q876.4,173.0 875.1,184 Q877.6,195.0 878.9,206 Q877.9,217.0 875.3,228 Q875.2,239.0 876.4,250 Q878.3,261.0 879.3,272 Q878.8,283.0 877.7,294" fill="none" stroke="#4a5884" stroke-width="1.2" opacity="0.9"/>
<path d="M744,205 L768,214" stroke="#2b3764" stroke-width="1.3" opacity="0.85" fill="none"/>
<path d="M790,190 L814,182" stroke="#2b3764" stroke-width="1.3" opacity="0.85" fill="none"/>
<path d="M816,240 L837,232" stroke="#2b3764" stroke-width="1.3" opacity="0.85" fill="none"/>
<path d="M770,262 L788,270" stroke="#2b3764" stroke-width="1.3" opacity="0.85" fill="none"/>
<path d="M724,170 L742,162" stroke="#2b3764" stroke-width="1.3" opacity="0.85" fill="none"/>
<path d="M839,206 L860,214" stroke="#2b3764" stroke-width="1.3" opacity="0.85" fill="none"/>
<path d="M768,150 L788,144" stroke="#2b3764" stroke-width="1.3" opacity="0.85" fill="none"/>
<path d="M814,282 L837,276" stroke="#2b3764" stroke-width="1.3" opacity="0.85" fill="none"/>
<path d="M790,214 L798,222" stroke="#2b3764" stroke-width="1.3" opacity="0.85" fill="none"/>
<path d="M708,226 L724,232" stroke="#2b3764" stroke-width="1.3" opacity="0.85" fill="none"/>
<path d="M742,240 L768,236" stroke="#2b3764" stroke-width="1.3" opacity="0.85" fill="none"/>
<path d="M789,186 C 793,192 797,196 803,200 L 799,204 C 794,200 790,194 786,190 Z" fill="#1c2444" opacity="0.85"/>
<path d="M726,136 C 728,142 730,146 733,150" stroke="#1c2444" stroke-width="2.2" fill="none" opacity="0.8"/>
<path d="M858,210 C 862,216 864,224 862,232" stroke="#3a4672" stroke-width="1.6" fill="none" opacity="0.8"/>
<circle cx="745" cy="184.6" r="5.5" fill="#e8853a" opacity="0.8" filter="url(#glow1)"/>
<circle cx="786" cy="178" r="5.5" fill="#e8853a" opacity="0.8" filter="url(#glow1)"/>
<circle cx="854.5" cy="183" r="5.5" fill="#e8853a" opacity="0.8" filter="url(#glow1)"/>
<circle cx="762" cy="221.6" r="5.5" fill="#e8853a" opacity="0.8" filter="url(#glow1)"/>
<circle cx="819" cy="234" r="5.5" fill="#e8853a" opacity="0.8" filter="url(#glow1)"/>
<circle cx="722" cy="241" r="5.5" fill="#e8853a" opacity="0.8" filter="url(#glow1)"/>
<circle cx="770" cy="272" r="5.5" fill="#e8853a" opacity="0.8" filter="url(#glow1)"/>
<circle cx="828" cy="262" r="5.5" fill="#e8853a" opacity="0.8" filter="url(#glow1)"/>
<circle cx="783" cy="134" r="5" fill="#8be06a" opacity="0.85" filter="url(#glow1)"/><circle cx="783" cy="134" r="1.8" fill="#2a9a4a"/>
<circle cx="730" cy="255" r="5" fill="#8be06a" opacity="0.85" filter="url(#glow1)"/><circle cx="730" cy="255" r="1.8" fill="#2a9a4a"/>
<circle cx="823" cy="150" r="5" fill="#8be06a" opacity="0.85" filter="url(#glow1)"/><circle cx="823" cy="150" r="1.8" fill="#2a9a4a"/>
<circle cx="857" cy="222" r="5" fill="#8be06a" opacity="0.85" filter="url(#glow1)"/><circle cx="857" cy="222" r="1.8" fill="#2a9a4a"/>
<rect x="-11.0" y="-4.0" width="22.0" height="8.0" rx="4.0" fill="#8d97b4" stroke="#e6e23c" stroke-width="1.8" transform="translate(754.0,163.5) rotate(90.0)"/>
<rect x="-8.0" y="-3.0" width="16.0" height="6.0" rx="3.0" fill="#dfe8f6" stroke="#25b4dc" stroke-width="1.6" transform="translate(772.0,166.0) rotate(0.0)"/>
<rect x="-7.0" y="-2.2" width="14.0" height="4.5" rx="2.2" fill="#8090d0" stroke="#3444c8" stroke-width="1.4" transform="translate(793.0,137.0) rotate(-50.0)"/>
<rect x="-7.0" y="-2.2" width="14.0" height="4.5" rx="2.2" fill="#8a90a8" stroke="#616576" stroke-width="0.6" transform="translate(780.0,151.0) rotate(60.0)"/><rect x="-5.5" y="-1.2" width="11.0" height="1.1" rx="1" fill="#cacdd8" opacity="0.85" transform="translate(780.0,151.0) rotate(60.0)"/>
<rect x="-12.0" y="-3.5" width="24.0" height="7.0" rx="3.5" fill="#9aa8c8" stroke="#e03ab0" stroke-width="1.7" transform="translate(731.0,183.0) rotate(-55.0)"/>
<rect x="-6.0" y="-2.2" width="12.0" height="4.5" rx="2.2" fill="#7c8498" stroke="#575c6a" stroke-width="0.6" transform="translate(761.0,184.6) rotate(20.0)"/><rect x="-4.5" y="-1.2" width="9.0" height="1.1" rx="1" fill="#c4c8d1" opacity="0.85" transform="translate(761.0,184.6) rotate(20.0)"/>
<rect x="-6.5" y="-2.2" width="13.0" height="4.5" rx="2.2" fill="#7c8498" stroke="#575c6a" stroke-width="0.6" transform="translate(798.0,160.0) rotate(25.0)"/><rect x="-5.0" y="-1.2" width="10.0" height="1.1" rx="1" fill="#c4c8d1" opacity="0.85" transform="translate(798.0,160.0) rotate(25.0)"/>
<rect x="-11.0" y="-3.0" width="22.0" height="6.0" rx="3.0" fill="#e8903a" stroke="#c8dc30" stroke-width="1.5" transform="translate(812.0,158.0) rotate(45.0)"/>
<rect x="-10.0" y="-3.0" width="20.0" height="6.0" rx="3.0" fill="#8ec8ee" stroke="#638ca7" stroke-width="0.6" transform="translate(839.0,179.0) rotate(88.0)"/><rect x="-8.5" y="-2.0" width="17.0" height="1.5" rx="1" fill="#cce6f7" opacity="0.85" transform="translate(839.0,179.0) rotate(88.0)"/>
<rect x="-11.0" y="-3.2" width="22.0" height="6.5" rx="3.2" fill="#a8b4d4" stroke="#e03ab0" stroke-width="1.6" transform="translate(816.0,195.0) rotate(-50.0)"/>
<rect x="-11.0" y="-3.2" width="22.0" height="6.5" rx="3.2" fill="#a8b4d4" stroke="#e03ab0" stroke-width="1.6" transform="translate(760.0,207.5) rotate(-55.0)"/>
<rect x="-10.0" y="-2.5" width="20.0" height="5.0" rx="2.5" fill="#25b4dc" stroke="#1a7e9a" stroke-width="0.6" transform="translate(743.5,213.0) rotate(45.0)"/><rect x="-8.5" y="-1.5" width="17.0" height="1.2" rx="1" fill="#9dddef" opacity="0.85" transform="translate(743.5,213.0) rotate(45.0)"/>
<rect x="-12.0" y="-3.0" width="24.0" height="6.0" rx="3.0" fill="#25b4dc" stroke="#1a7e9a" stroke-width="0.6" transform="translate(787.5,236.0) rotate(-55.0)"/><rect x="-10.5" y="-2.0" width="21.0" height="1.5" rx="1" fill="#9dddef" opacity="0.85" transform="translate(787.5,236.0) rotate(-55.0)"/>
<rect x="-8.0" y="-2.5" width="16.0" height="5.0" rx="2.5" fill="#7fd0ea" stroke="#5992a4" stroke-width="0.6" transform="translate(743.5,248.0) rotate(-30.0)"/><rect x="-6.5" y="-1.5" width="13.0" height="1.2" rx="1" fill="#c5eaf6" opacity="0.85" transform="translate(743.5,248.0) rotate(-30.0)"/>
<rect x="-10.0" y="-3.0" width="20.0" height="6.0" rx="3.0" fill="#25b4dc" stroke="#1a7e9a" stroke-width="0.6" transform="translate(835.0,253.0) rotate(35.0)"/><rect x="-8.5" y="-2.0" width="17.0" height="1.5" rx="1" fill="#9dddef" opacity="0.85" transform="translate(835.0,253.0) rotate(35.0)"/>
<rect x="-10.0" y="-3.0" width="20.0" height="6.0" rx="3.0" fill="#25b4dc" stroke="#1a7e9a" stroke-width="0.6" transform="translate(816.0,264.0) rotate(88.0)"/><rect x="-8.5" y="-2.0" width="17.0" height="1.5" rx="1" fill="#9dddef" opacity="0.85" transform="translate(816.0,264.0) rotate(88.0)"/>
<rect x="-9.0" y="-2.8" width="18.0" height="5.5" rx="2.8" fill="#25b4dc" stroke="#1a7e9a" stroke-width="0.6" transform="translate(846.0,236.0) rotate(-55.0)"/><rect x="-7.5" y="-1.8" width="15.0" height="1.4" rx="1" fill="#9dddef" opacity="0.85" transform="translate(846.0,236.0) rotate(-55.0)"/>
<rect x="-9.0" y="-2.2" width="18.0" height="4.5" rx="2.2" fill="#5a8ad8" stroke="#3f6197" stroke-width="0.6" transform="translate(727.0,215.0) rotate(-60.0)"/><rect x="-7.5" y="-1.2" width="15.0" height="1.1" rx="1" fill="#b5caed" opacity="0.85" transform="translate(727.0,215.0) rotate(-60.0)"/>
<rect x="-8.0" y="-2.2" width="16.0" height="4.5" rx="2.2" fill="#4a7ad0" stroke="#345592" stroke-width="0.6" transform="translate(800.0,205.0) rotate(50.0)"/><rect x="-6.5" y="-1.2" width="13.0" height="1.1" rx="1" fill="#aec3ea" opacity="0.85" transform="translate(800.0,205.0) rotate(50.0)"/>
<rect x="-7.0" y="-2.0" width="14.0" height="4.0" rx="2.0" fill="#4a7ad0" stroke="#345592" stroke-width="0.6" transform="translate(777.0,196.0) rotate(40.0)"/><rect x="-5.5" y="-1.0" width="11.0" height="1.0" rx="1" fill="#aec3ea" opacity="0.85" transform="translate(777.0,196.0) rotate(40.0)"/>
<rect x="-7.0" y="-2.5" width="14.0" height="5.0" rx="2.5" fill="#7c8498" stroke="#575c6a" stroke-width="0.6" transform="translate(846.0,260.0) rotate(80.0)"/><rect x="-5.5" y="-1.5" width="11.0" height="1.2" rx="1" fill="#c4c8d1" opacity="0.85" transform="translate(846.0,260.0) rotate(80.0)"/>
<rect x="-7.0" y="-2.5" width="14.0" height="5.0" rx="2.5" fill="#7c8498" stroke="#575c6a" stroke-width="0.6" transform="translate(770.0,283.0) rotate(70.0)"/><rect x="-5.5" y="-1.5" width="11.0" height="1.2" rx="1" fill="#c4c8d1" opacity="0.85" transform="translate(770.0,283.0) rotate(70.0)"/>
<rect x="-8.0" y="-2.8" width="16.0" height="5.5" rx="2.8" fill="#9cc4e8" stroke="#6d89a2" stroke-width="0.6" transform="translate(831.6,280.0) rotate(-20.0)"/><rect x="-6.5" y="-1.8" width="13.0" height="1.4" rx="1" fill="#d2e4f5" opacity="0.85" transform="translate(831.6,280.0) rotate(-20.0)"/>
<rect x="-11.0" y="-3.0" width="22.0" height="6.0" rx="3.0" fill="#a8b4d4" stroke="#e03ab0" stroke-width="1.6" transform="translate(756.0,274.5) rotate(40.0)"/>
<rect x="-11.0" y="-3.2" width="22.0" height="6.5" rx="3.2" fill="#a8b4d4" stroke="#e03ab0" stroke-width="1.6" transform="translate(821.0,273.0) rotate(-50.0)"/>
<rect x="-9.0" y="-3.0" width="18.0" height="6.0" rx="3.0" fill="#f030b0" stroke="#a8227b" stroke-width="0.6" transform="translate(775.0,280.0) rotate(35.0)"/><rect x="-7.5" y="-2.0" width="15.0" height="1.5" rx="1" fill="#f8a2db" opacity="0.85" transform="translate(775.0,280.0) rotate(35.0)"/>
<rect x="-7.0" y="-2.5" width="14.0" height="5.0" rx="2.5" fill="#a8c8e0" stroke="#25b4dc" stroke-width="1.3" transform="translate(730.0,275.0) rotate(-30.0)"/>
<rect x="-8.0" y="-2.5" width="16.0" height="5.0" rx="2.5" fill="#a8b4d4" stroke="#e03ab0" stroke-width="1.4" transform="translate(742.0,290.0) rotate(30.0)"/>
<rect x="-6.0" y="-2.0" width="12.0" height="4.0" rx="2.0" fill="#a8c8e0" stroke="#25b4dc" stroke-width="1.2" transform="translate(760.0,150.0) rotate(-40.0)"/>
<rect x="-7.0" y="-2.2" width="14.0" height="4.5" rx="2.2" fill="#dfe8f6" stroke="#25b4dc" stroke-width="1.2" transform="translate(868.0,200.0) rotate(80.0)"/>
<rect x="-6.0" y="-2.2" width="12.0" height="4.5" rx="2.2" fill="#a8b4d4" stroke="#e03ab0" stroke-width="1.2" transform="translate(865.0,240.0) rotate(60.0)"/>
<rect x="-7.0" y="-2.0" width="14.0" height="4.0" rx="2.0" fill="#6a7aa8" stroke="#4a5576" stroke-width="0.6" transform="translate(712.0,200.0) rotate(85.0)"/><rect x="-5.5" y="-1.0" width="11.0" height="1.0" rx="1" fill="#bcc3d8" opacity="0.85" transform="translate(712.0,200.0) rotate(85.0)"/>
<rect x="-8.0" y="-2.5" width="16.0" height="5.0" rx="2.5" fill="#62b83c" stroke="#45812a" stroke-width="0.6" transform="translate(806.0,292.0) rotate(-15.0)"/><rect x="-6.5" y="-1.5" width="13.0" height="1.2" rx="1" fill="#b8dfa7" opacity="0.85" transform="translate(806.0,292.0) rotate(-15.0)"/>
<rect x="-6.0" y="-1.8" width="12.0" height="3.5" rx="1.8" fill="#5a8ad8" stroke="#3f6197" stroke-width="0.6" transform="translate(720.0,228.0) rotate(70.0)"/><rect x="-4.5" y="-0.8" width="9.0" height="1.0" rx="1" fill="#b5caed" opacity="0.85" transform="translate(720.0,228.0) rotate(70.0)"/>
<rect x="-13" y="-5" width="26" height="10" rx="5" fill="#f8a0a0" opacity="0.9" filter="url(#glow1)" transform="translate(835,221.6) rotate(84)"/>
<rect x="-11.0" y="-3.0" width="22.0" height="6.0" rx="3.0" fill="#f23aa6" stroke="#a92974" stroke-width="0.6" transform="translate(835.0,221.6) rotate(84.0)"/><rect x="-9.5" y="-2.0" width="19.0" height="1.5" rx="1" fill="#f9a6d7" opacity="0.85" transform="translate(835.0,221.6) rotate(84.0)"/>
<rect x="-13" y="-5.5" width="26" height="11" rx="5.5" fill="#f6f07a" opacity="0.9" filter="url(#glow1)" transform="translate(798,248) rotate(42)"/>
<rect x="-11.0" y="-3.5" width="22.0" height="7.0" rx="3.5" fill="#f0ee22" stroke="#a8a718" stroke-width="0.6" transform="translate(798.0,248.0) rotate(42.0)"/><rect x="-9.5" y="-2.5" width="19.0" height="1.8" rx="1" fill="#f8f79c" opacity="0.85" transform="translate(798.0,248.0) rotate(42.0)"/>
<path d="M843,234 C 848,231 856,233 857,238 C 858,242 862,243 864,247 C 862,251 854,250 851,246 C 848,242 842,240 843,234 Z" fill="#72d032"/>
<circle cx="805" cy="183" r="3.1" fill="#8e96a4" stroke="#e2cc3c" stroke-width="1.3"/>
<circle cx="810.5" cy="179.5" r="3.1" fill="#8e96a4" stroke="#e2cc3c" stroke-width="1.3"/>
<circle cx="816" cy="176.2" r="3.1" fill="#8e96a4" stroke="#e2cc3c" stroke-width="1.3"/>
<circle cx="821.5" cy="173.2" r="3.1" fill="#8e96a4" stroke="#e2cc3c" stroke-width="1.3"/>
<circle cx="827" cy="170.3" r="3.1" fill="#8e96a4" stroke="#e2cc3c" stroke-width="1.3"/>
<circle cx="795" cy="270" r="2.8" fill="#9a6a48" stroke="#6a4428" stroke-width="0.6"/>
<circle cx="800" cy="274" r="2.8" fill="#9a6a48" stroke="#6a4428" stroke-width="0.6"/>
<circle cx="796" cy="278" r="2.8" fill="#9a6a48" stroke="#6a4428" stroke-width="0.6"/>
<circle cx="803" cy="280" r="2.8" fill="#9a6a48" stroke="#6a4428" stroke-width="0.6"/>
<circle cx="792" cy="276" r="2.8" fill="#9a6a48" stroke="#6a4428" stroke-width="0.6"/>
<polyline points="730,236 734,226 738,232 742,224 747,228" fill="none" stroke="#d02aa0" stroke-width="1.5"/>
<polyline points="757,232 764,234 758,239 766,242 760,247" fill="none" stroke="#2a8a5a" stroke-width="2"/>
<polyline points="786,258 794,261 787,266 795,270 788,275" fill="none" stroke="#3a5ac0" stroke-width="1.5"/>
<rect x="-6.2" y="-1.9" width="12.4" height="3.8" rx="1.9" fill="#e03ab0" stroke="#9d297b" stroke-width="0.6" transform="translate(775.9,216.7) rotate(-50.0)"/><rect x="-4.7" y="-0.9" width="9.4" height="1.0" rx="1" fill="#f1a6db" opacity="0.85" transform="translate(775.9,216.7) rotate(-50.0)"/>
<rect x="-8.3" y="-1.7" width="16.7" height="3.4" rx="1.7" fill="#30a060" stroke="#227043" stroke-width="0.6" transform="translate(758.3,235.3) rotate(40.0)"/><rect x="-6.8" y="-0.7" width="13.7" height="1.0" rx="1" fill="#a2d4b7" opacity="0.85" transform="translate(758.3,235.3) rotate(40.0)"/>
<rect x="-8.1" y="-1.8" width="16.2" height="3.5" rx="1.8" fill="#e03ab0" stroke="#9d297b" stroke-width="0.6" transform="translate(718.4,173.7) rotate(-40.0)"/><rect x="-6.6" y="-0.8" width="13.2" height="1.0" rx="1" fill="#f1a6db" opacity="0.85" transform="translate(718.4,173.7) rotate(-40.0)"/>
<rect x="-7.3" y="-1.7" width="14.6" height="3.4" rx="1.7" fill="#8ec8ee" stroke="#638ca7" stroke-width="0.6" transform="translate(794.4,216.5) rotate(-60.0)"/><rect x="-5.8" y="-0.7" width="11.6" height="1.0" rx="1" fill="#cce6f7" opacity="0.85" transform="translate(794.4,216.5) rotate(-60.0)"/>
<rect x="-5.9" y="-2.1" width="11.7" height="4.2" rx="2.1" fill="#e03ab0" stroke="#9d297b" stroke-width="0.6" transform="translate(746.5,148.9) rotate(50.0)"/><rect x="-4.4" y="-1.1" width="8.7" height="1.0" rx="1" fill="#f1a6db" opacity="0.85" transform="translate(746.5,148.9) rotate(50.0)"/>
<rect x="-5.9" y="-1.6" width="11.8" height="3.2" rx="1.6" fill="#9aa6c6" stroke="#7c8498" stroke-width="1.3" transform="translate(778.4,243.6) rotate(50.0)"/>
<rect x="-6.7" y="-2.4" width="13.4" height="4.8" rx="2.4" fill="#9aa6c6" stroke="#8ec8ee" stroke-width="1.3" transform="translate(844.1,202.3) rotate(20.0)"/>
<rect x="-5.2" y="-1.8" width="10.5" height="3.7" rx="1.8" fill="#a8b4d4" stroke="#8ec8ee" stroke-width="1.3" transform="translate(742.6,178.4) rotate(-60.0)"/>
<rect x="-7.6" y="-2.2" width="15.1" height="4.5" rx="2.2" fill="#dfe8f6" stroke="#3a5ac0" stroke-width="1.3" transform="translate(832.1,241.1) rotate(90.0)"/>
<rect x="-7.5" y="-2.1" width="15.0" height="4.2" rx="2.1" fill="#30a060" stroke="#227043" stroke-width="0.6" transform="translate(823.4,215.0) rotate(-60.0)"/><rect x="-6.0" y="-1.1" width="12.0" height="1.1" rx="1" fill="#a2d4b7" opacity="0.85" transform="translate(823.4,215.0) rotate(-60.0)"/>
<rect x="-4.8" y="-1.6" width="9.7" height="3.3" rx="1.6" fill="#5a8ad8" stroke="#3f6197" stroke-width="0.6" transform="translate(820.2,247.3) rotate(60.0)"/><rect x="-3.3" y="-0.6" width="6.7" height="1.0" rx="1" fill="#b5caed" opacity="0.85" transform="translate(820.2,247.3) rotate(60.0)"/>
<rect x="-5.4" y="-2.3" width="10.9" height="4.6" rx="2.3" fill="#7c8498" stroke="#575c6a" stroke-width="0.6" transform="translate(783.4,267.2) rotate(40.0)"/><rect x="-3.9" y="-1.3" width="7.9" height="1.1" rx="1" fill="#c4c8d1" opacity="0.85" transform="translate(783.4,267.2) rotate(40.0)"/>
<rect x="-6.9" y="-1.9" width="13.8" height="3.8" rx="1.9" fill="#25b4dc" stroke="#1a7e9a" stroke-width="0.6" transform="translate(808.6,238.6) rotate(50.0)"/><rect x="-5.4" y="-0.9" width="10.8" height="1.0" rx="1" fill="#9dddef" opacity="0.85" transform="translate(808.6,238.6) rotate(50.0)"/>
<rect x="-8.2" y="-1.6" width="16.5" height="3.2" rx="1.6" fill="#dfe8f6" stroke="#25b4dc" stroke-width="1.3" transform="translate(796.6,181.6) rotate(90.0)"/>
<rect x="-5.1" y="-2.5" width="10.3" height="4.9" rx="2.5" fill="#dfe8f6" stroke="#e03ab0" stroke-width="1.3" transform="translate(858.0,211.6) rotate(90.0)"/>
<rect x="-4.7" y="-2.3" width="9.4" height="4.5" rx="2.3" fill="#25b4dc" stroke="#1a7e9a" stroke-width="0.6" transform="translate(865.6,222.5) rotate(90.0)"/><rect x="-3.2" y="-1.3" width="6.4" height="1.1" rx="1" fill="#9dddef" opacity="0.85" transform="translate(865.6,222.5) rotate(90.0)"/>
<rect x="-5.0" y="-2.0" width="10.0" height="4.0" rx="2.0" fill="#a8b4d4" stroke="#30a060" stroke-width="1.3" transform="translate(785.5,284.8) rotate(60.0)"/>
<rect x="-5.0" y="-2.2" width="10.0" height="4.4" rx="2.2" fill="#a8b4d4" stroke="#3a5ac0" stroke-width="1.3" transform="translate(752.9,223.9) rotate(-50.0)"/>
<rect x="-5.1" y="-1.8" width="10.1" height="3.5" rx="1.8" fill="#dfe8f6" stroke="#3a5ac0" stroke-width="1.3" transform="translate(758.6,258.6) rotate(-50.0)"/>
<rect x="-7.5" y="-2.0" width="15.0" height="4.1" rx="2.0" fill="#e03ab0" stroke="#9d297b" stroke-width="0.6" transform="translate(792.3,192.8) rotate(-20.0)"/><rect x="-6.0" y="-1.0" width="12.0" height="1.0" rx="1" fill="#f1a6db" opacity="0.85" transform="translate(792.3,192.8) rotate(-20.0)"/>
<rect x="-6.2" y="-1.9" width="12.5" height="3.8" rx="1.9" fill="#a8b4d4" stroke="#8ec8ee" stroke-width="1.3" transform="translate(743.7,196.8) rotate(-60.0)"/>
<rect x="-5.7" y="-2.4" width="11.4" height="4.9" rx="2.4" fill="#9aa6c6" stroke="#25b4dc" stroke-width="1.3" transform="translate(823.0,147.3) rotate(40.0)"/>
<rect x="-5.4" y="-1.8" width="10.9" height="3.6" rx="1.8" fill="#30a060" stroke="#227043" stroke-width="0.6" transform="translate(847.7,169.7) rotate(80.0)"/><rect x="-3.9" y="-0.8" width="7.9" height="1.0" rx="1" fill="#a2d4b7" opacity="0.85" transform="translate(847.7,169.7) rotate(80.0)"/>
<rect x="-4.9" y="-2.2" width="9.9" height="4.3" rx="2.2" fill="#9aa6c6" stroke="#7c8498" stroke-width="1.3" transform="translate(739.0,258.8) rotate(-20.0)"/>
<rect x="-7.5" y="-1.6" width="15.0" height="3.3" rx="1.6" fill="#30a060" stroke="#227043" stroke-width="0.6" transform="translate(729.2,160.8) rotate(80.0)"/><rect x="-6.0" y="-0.6" width="12.0" height="1.0" rx="1" fill="#a2d4b7" opacity="0.85" transform="translate(729.2,160.8) rotate(80.0)"/>
<rect x="-7.8" y="-2.0" width="15.6" height="4.0" rx="2.0" fill="#7c8498" stroke="#575c6a" stroke-width="0.6" transform="translate(833.5,193.4) rotate(-60.0)"/><rect x="-6.3" y="-1.0" width="12.6" height="1.0" rx="1" fill="#c4c8d1" opacity="0.85" transform="translate(833.5,193.4) rotate(-60.0)"/>
<rect x="-4.6" y="-2.0" width="9.2" height="3.9" rx="2.0" fill="#9aa6c6" stroke="#8ec8ee" stroke-width="1.3" transform="translate(778.6,183.6) rotate(80.0)"/>
<rect x="-4.6" y="-1.8" width="9.2" height="3.6" rx="1.8" fill="#25b4dc" stroke="#1a7e9a" stroke-width="0.6" transform="translate(827.0,230.4) rotate(90.0)"/><rect x="-3.1" y="-0.8" width="6.2" height="1.0" rx="1" fill="#9dddef" opacity="0.85" transform="translate(827.0,230.4) rotate(90.0)"/>
<rect x="-5.9" y="-2.3" width="11.9" height="4.6" rx="2.3" fill="#a8b4d4" stroke="#8ec8ee" stroke-width="1.3" transform="translate(741.6,276.1) rotate(-50.0)"/>
<rect x="-6.5" y="-1.8" width="13.1" height="3.6" rx="1.8" fill="#5a8ad8" stroke="#3f6197" stroke-width="0.6" transform="translate(757.4,196.1) rotate(-50.0)"/><rect x="-5.0" y="-0.8" width="10.1" height="1.0" rx="1" fill="#b5caed" opacity="0.85" transform="translate(757.4,196.1) rotate(-50.0)"/>
<rect x="-8.5" y="-2.2" width="16.9" height="4.4" rx="2.2" fill="#3a5ac0" stroke="#293f86" stroke-width="0.6" transform="translate(728.8,247.6) rotate(80.0)"/><rect x="-7.0" y="-1.2" width="13.9" height="1.1" rx="1" fill="#a6b5e3" opacity="0.85" transform="translate(728.8,247.6) rotate(80.0)"/>
<rect x="-6.2" y="-1.7" width="12.5" height="3.5" rx="1.7" fill="#e03ab0" stroke="#9d297b" stroke-width="0.6" transform="translate(828.1,163.0) rotate(-50.0)"/><rect x="-4.7" y="-0.7" width="9.5" height="1.0" rx="1" fill="#f1a6db" opacity="0.85" transform="translate(828.1,163.0) rotate(-50.0)"/>
<rect x="-7.2" y="-1.9" width="14.3" height="3.8" rx="1.9" fill="#e03ab0" stroke="#9d297b" stroke-width="0.6" transform="translate(707.2,224.7) rotate(80.0)"/><rect x="-5.7" y="-0.9" width="11.3" height="1.0" rx="1" fill="#f1a6db" opacity="0.85" transform="translate(707.2,224.7) rotate(80.0)"/>
<rect x="-5.5" y="-2.1" width="11.0" height="4.2" rx="2.1" fill="#25b4dc" stroke="#1a7e9a" stroke-width="0.6" transform="translate(797.7,227.8) rotate(80.0)"/><rect x="-4.0" y="-1.1" width="8.0" height="1.0" rx="1" fill="#9dddef" opacity="0.85" transform="translate(797.7,227.8) rotate(80.0)"/>
<circle cx="752" cy="139" r="2.2" fill="#f1e194" stroke="#e6c83c" stroke-width="1.1"/>
<circle cx="716" cy="164" r="2.2" fill="#ea9ad4" stroke="#d848b0" stroke-width="1.1"/>
<circle cx="741" cy="166" r="2.2" fill="#89cfe5" stroke="#28a8d0" stroke-width="1.1"/>
<circle cx="838" cy="160" r="2.2" fill="#f1e194" stroke="#e6c83c" stroke-width="1.1"/>
<circle cx="752" cy="200" r="2.2" fill="#ea9ad4" stroke="#d848b0" stroke-width="1.1"/>
<circle cx="757" cy="202" r="2.2" fill="#ea9ad4" stroke="#d848b0" stroke-width="1.1"/>
<circle cx="772" cy="214" r="2.2" fill="#89cfe5" stroke="#28a8d0" stroke-width="1.1"/>
<circle cx="730" cy="240" r="2.2" fill="#9bbfdc" stroke="#4a8ac0" stroke-width="1.1"/>
<circle cx="746" cy="266" r="2.2" fill="#9bbfdc" stroke="#4a8ac0" stroke-width="1.1"/>
<circle cx="812" cy="213" r="2.2" fill="#89cfe5" stroke="#28a8d0" stroke-width="1.1"/>
<circle cx="850" cy="205" r="2.2" fill="#f1e194" stroke="#e6c83c" stroke-width="1.1"/>
<circle cx="852" cy="268" r="2.2" fill="#89cfe5" stroke="#28a8d0" stroke-width="1.1"/>
<circle cx="826" cy="206" r="2.2" fill="#b18ecc" stroke="#7232a2" stroke-width="1.1"/>
<circle cx="864" cy="224" r="2.2" fill="#f1e194" stroke="#e6c83c" stroke-width="1.1"/>
<circle cx="792" cy="216" r="2.2" fill="#8dcba8" stroke="#30a060" stroke-width="1.1"/>
<circle cx="806" cy="222" r="2.2" fill="#8dcba8" stroke="#30a060" stroke-width="1.1"/>
<circle cx="722" cy="196" r="2.2" fill="#f1e194" stroke="#e6c83c" stroke-width="1.1"/>
<circle cx="780" cy="244" r="2.2" fill="#ea9ad4" stroke="#d848b0" stroke-width="1.1"/>
<circle cx="842" cy="284" r="2.2" fill="#8dcba8" stroke="#30a060" stroke-width="1.1"/>
<circle cx="765" cy="258" r="2.2" fill="#89cfe5" stroke="#28a8d0" stroke-width="1.1"/>
<circle cx="708" cy="230" r="2.2" fill="#f1e194" stroke="#e6c83c" stroke-width="1.1"/>
<path d="M838,150 c 3,4 7,2 9,6 c 2,4 6,3 8,7" fill="none" stroke="#e89a5a" stroke-width="1.1"/>
<path d="M744,256 c 4,3 8,0 11,4 c 3,4 8,2 11,6" fill="none" stroke="#e89a5a" stroke-width="1.1"/>
<path d="M776,262 c 0,4 3,6 2,10" fill="none" stroke="#e07a28" stroke-width="1.8" stroke-linecap="round"/>
</g>
<g clip-path="url(#lc)"><ellipse cx="791" cy="217" rx="88" ry="85" fill="none" stroke="#ffffff" stroke-width="13" opacity="0.8" filter="url(#glow)"/></g>
<ellipse cx="786.5" cy="213.5" rx="84.5" ry="81.5" fill="none" stroke="#ffffff" stroke-width="5" opacity="0.4" filter="url(#glow1)"/>
<ellipse cx="786.5" cy="213.5" rx="87.5" ry="84.5" fill="none" stroke="#151515" stroke-width="1.5"/>
<path d="M860.5,263 Q 865.5,262.5 869.5,267.5 L 854.5,290.5 Q 848,289 845.8,283.5 Z" fill="#bdbdbd" stroke="#1c1c1c" stroke-width="1.5" stroke-linejoin="round"/>
<path d="M865.2,264.8 L 850,287" stroke="#3a3a3a" stroke-width="1.1" fill="none"/>
<path d="M862.8,264.2 L 847.8,285.2" stroke="#e2e2e2" stroke-width="1.4" fill="none"/>
<g fill="#2b5a93">
<path d="M431,121.5 C 455,105 490,94 519,91 C 545,88 580,88 615,94 C 650,100 685,118 707,134 L 725,119 L 733.5,162 L 657.5,146.5 L 681,142 C 660,126 640,115 612,107.5 C 585,101 550,97 519,98.5 C 490,100 460,108 431.5,123 Z"/>
<path d="M346,271.5 C 360,277 372,282 384,285.5 C 410,293 445,297 472,296.5 C 505,296 535,293 560,288 C 590,281 612,272 626,266 C 640,258 648,250 654,242 L 616.5,239.5 L 704.5,222 L 693.5,272.5 L 678,252.5 C 670,261 660,268 647,275 C 630,284 608,294 581,301 C 555,307 525,309.5 494,309 C 470,308.5 448,306.5 428,303 C 410,299 397,295 384,290 C 370,284 358,278 346,273 Z"/>
<path d="M347,354 C 360,361 372,366 384,371 C 405,379 428,387 450,391 C 472,395 495,397.6 516,397.6 C 540,397.6 562,394 581.5,389 C 605,383 628,375 647,364.5 C 665,354 680,342 691,327 L 654,318.5 L 755,299 L 748.5,367 L 726.5,342.5 C 717,354 705,364 691,373.5 C 672,386 650,394 625.5,400 C 605,405 582,409.5 560,411 C 545,412 530,412 516,411 C 493,409.5 470,405 450,400 C 428,394 405,386 384,376 C 371,369.5 359,362.5 347,355.5 Z"/>
</g>
<path transform="translate(-0.8,0)" d="M186.8,15 C 180.8,15.2 176,15.4 174,15.8 C 171.6,16.3 171,17.5 171,20 L 170.7,155.5 C 170.7,158.4 163,158.8 154.3,159 C 163,159.2 170.5,159.6 170.5,162.5 L 170.2,297.5 C 170.2,300.5 171,301.6 174,302 C 177,302.4 181,302.5 185.8,302.7" fill="none" stroke="#1a1a1a" stroke-width="1.8" stroke-linecap="round"/>
<g stroke="#1a1a1a" stroke-width="1.5" fill="#1a1a1a">
<line x1="105" y1="379.5" x2="251" y2="379.5"/><path d="M257.5,379.5 L249.5,376.2 L251.5,379.5 L249.5,382.8 Z" stroke-width="0.6"/>
<line x1="612.5" y1="512" x2="535" y2="512"/><path d="M528.5,512 L536.5,508.7 L534.5,512 L536.5,515.3 Z" stroke-width="0.6"/>
</g>
<text x="4.5" y="136.5" font-size="13.6" textLength="83.5" lengthAdjust="spacingAndGlyphs" stroke="#111" stroke-width="0.35">Phylloshere</text>
<text x="4.5" y="153.7" font-size="13.6" textLength="84" lengthAdjust="spacingAndGlyphs" stroke="#111" stroke-width="0.35">Microbiome</text>
<text x="4.5" y="171" font-size="13.6" textLength="104.5" lengthAdjust="spacingAndGlyphs" stroke="#111" stroke-width="0.35">(Plant Surface)</text>
<text x="2.7" y="382" font-size="13.6" textLength="89.5" lengthAdjust="spacingAndGlyphs" stroke="#111" stroke-width="0.35">Rhizosphere</text>
<text x="2.7" y="398.8" font-size="13.6" textLength="83.3" lengthAdjust="spacingAndGlyphs" stroke="#111" stroke-width="0.35">Microbiome</text>
<text x="787.5" y="346.8" font-size="13.6" textLength="85.5" lengthAdjust="spacingAndGlyphs" stroke="#111" stroke-width="0.35">Endosphere</text>
<text x="787.5" y="364" font-size="13.6" textLength="84" lengthAdjust="spacingAndGlyphs" stroke="#111" stroke-width="0.35">Microbiome</text>
<text x="620" y="515.2" font-size="13.6" textLength="63.5" lengthAdjust="spacingAndGlyphs" stroke="#111" stroke-width="0.35">Bulk Soil</text>
<text x="620" y="532.4" font-size="13.6" textLength="84" lengthAdjust="spacingAndGlyphs" stroke="#111" stroke-width="0.35">Microbiome</text>
</g>
</svg>
</body></html>
